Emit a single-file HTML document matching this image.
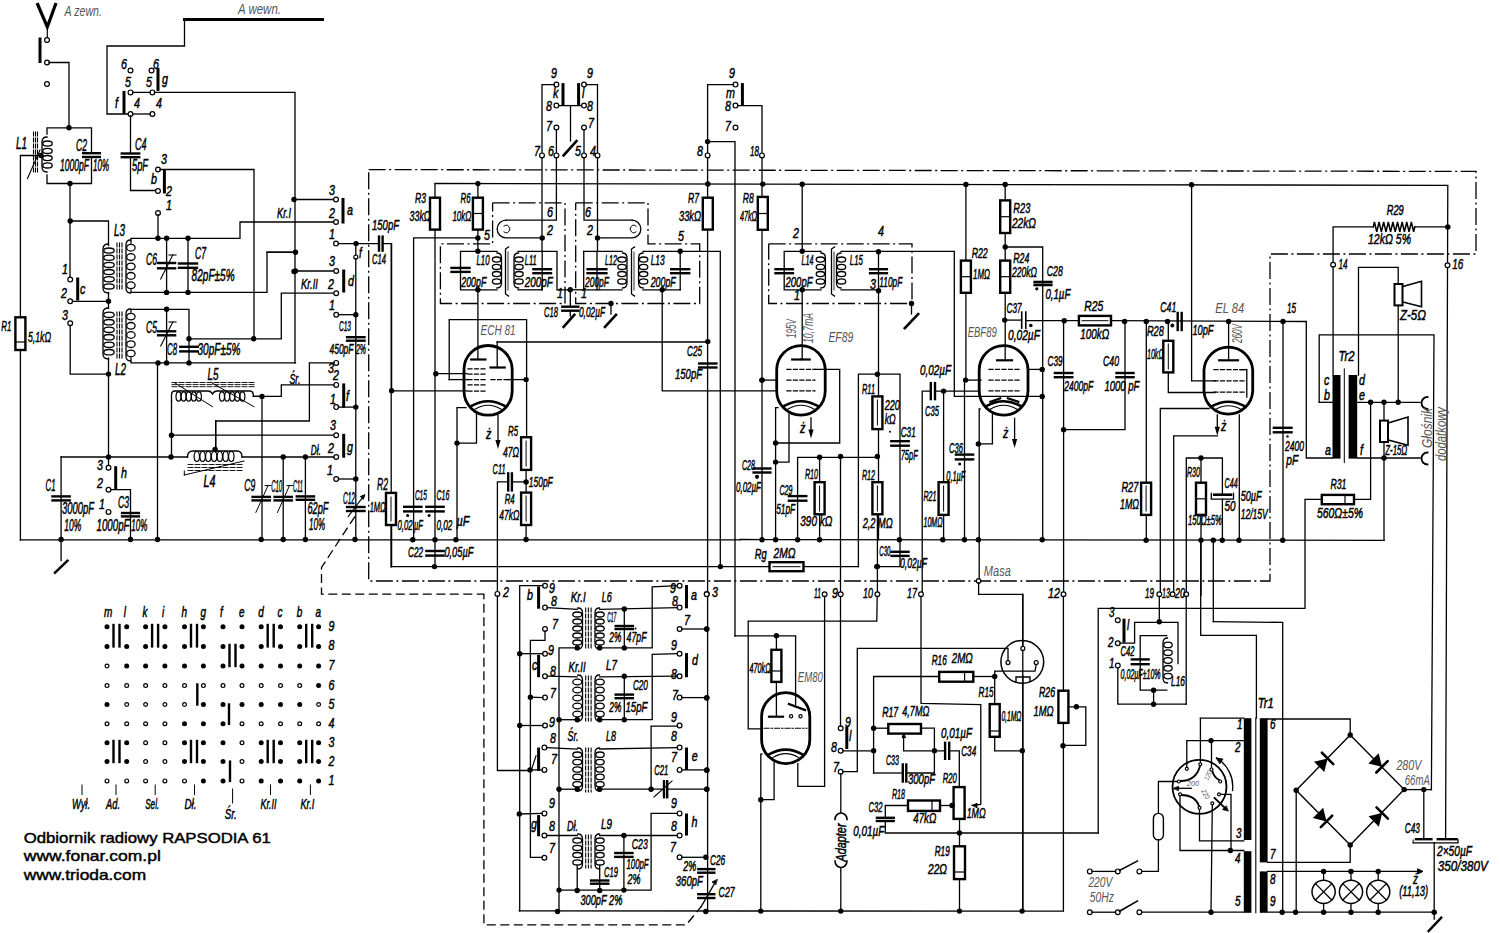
<!DOCTYPE html>
<html><head><meta charset="utf-8"><style>
html,body{margin:0;padding:0;background:#fff;width:1500px;height:933px;overflow:hidden}
svg{display:block}
.w{stroke:#000;fill:none;stroke-linecap:square}
.dd{stroke:#000;fill:none;stroke-dasharray:17 3.5 2 3.5}
.ds{stroke:#000;fill:none;stroke-dasharray:9 4.5}
.o{fill:#fff;stroke:#000;stroke-width:1.2}
.j{fill:#000}
.r{fill:#fff;stroke:#000}
.t{font-family:"Liberation Sans",sans-serif;font-style:italic;fill:#000;stroke:#000;stroke-width:0.5px}
.g{font-family:"Liberation Sans",sans-serif;font-style:italic;fill:#555;stroke:none}
.b{font-family:"Liberation Sans",sans-serif;fill:#000;stroke:#000;stroke-width:0.45px}
text{-webkit-font-smoothing:antialiased}
</style></head><body>
<svg width="1500" height="933" viewBox="0 0 1500 933">
<path d="M37.7,4.5 L47.3,27 L55.5,4.5" class="w" stroke-width="3.2"/>
<line x1="47.3" y1="26" x2="47.3" y2="38.3" class="w" stroke-width="1.2"/>
<line x1="40" y1="39" x2="40" y2="61.5" class="w" stroke-width="3"/>
<circle cx="47" cy="40" r="2.4" class="o"/>
<circle cx="47" cy="62.5" r="2.4" class="o"/>
<circle cx="47" cy="84" r="2.4" class="o"/>
<text x="64.5" y="16" font-size="13.8" class="g" textLength="37.5" lengthAdjust="spacingAndGlyphs">A  zewn.</text>
<text x="238" y="14" font-size="13.8" class="g" textLength="43" lengthAdjust="spacingAndGlyphs">A  wewn.</text>
<line x1="184.5" y1="19.5" x2="322.5" y2="19.5" class="w" stroke-width="3"/>
<polyline points="184.5,19.5 184.5,46 107,46 107,114 130.5,114" class="w" stroke-width="1.3"/>
<polyline points="49,62.5 69,62.5 69,127.8" class="w" stroke-width="1.3"/>
<circle cx="69" cy="127.8" r="2.7" class="j"/>
<polyline points="47,134 47,127.8 91.5,127.8 91.5,153.2" class="w" stroke-width="1.3"/>
<polyline points="91.5,157 91.5,183.5 47,183.5 47,175" class="w" stroke-width="1.3"/>
<line x1="83.2" y1="153.2" x2="99.8" y2="153.2" class="w" stroke-width="2.4"/>
<line x1="83.2" y1="157" x2="99.8" y2="157" class="w" stroke-width="2.4"/>
<circle cx="70" cy="183.5" r="2.7" class="j"/>
<path d="M47,137 Q42,137 42,142 L42,167 Q42,172 47,172" class="w" stroke-width="1.3"/>
<ellipse cx="47.5" cy="143.6" rx="4.7" ry="2.6" class="w" stroke-width="1.3"/>
<ellipse cx="47.5" cy="150.9" rx="4.7" ry="2.6" class="w" stroke-width="1.3"/>
<ellipse cx="47.5" cy="158.1" rx="4.7" ry="2.6" class="w" stroke-width="1.3"/>
<ellipse cx="47.5" cy="165.4" rx="4.7" ry="2.6" class="w" stroke-width="1.3"/>
<line x1="33.5" y1="132" x2="33.5" y2="173" class="w" stroke-width="1.1" stroke-dasharray="4 2"/>
<line x1="35.5" y1="132" x2="35.5" y2="173" class="w" stroke-width="1.1" stroke-dasharray="4 2"/>
<line x1="37.5" y1="132" x2="37.5" y2="173" class="w" stroke-width="1.1" stroke-dasharray="4 2"/>
<polyline points="20.4,540 20.4,155.5 41,155.5" class="w" stroke-width="1.3"/>
<circle cx="41" cy="155.5" r="2.7" class="j"/>
<line x1="27.5" y1="178.5" x2="40" y2="150" class="w" stroke-width="1.1"/>
<text x="16" y="149" font-size="16.1" class="t" textLength="11" lengthAdjust="spacingAndGlyphs">L1</text>
<text x="76" y="151" font-size="16.1" class="t" textLength="11" lengthAdjust="spacingAndGlyphs">C2</text>
<text x="60" y="171" font-size="16.1" class="t" textLength="29" lengthAdjust="spacingAndGlyphs">1000pF</text>
<text x="93" y="171" font-size="16.1" class="t" textLength="16" lengthAdjust="spacingAndGlyphs">10%</text>
<circle cx="130.5" cy="70.5" r="2.4" class="o"/>
<circle cx="151.5" cy="70.5" r="2.4" class="o"/>
<text transform="translate(121,68.5) scale(0.72,1)" font-size="14.9" class="t">6</text>
<text transform="translate(153,68.5) scale(0.72,1)" font-size="14.9" class="t">6</text>
<line x1="158" y1="69.6" x2="158" y2="89.4" class="w" stroke-width="3"/>
<text transform="translate(162,84) scale(0.72,1)" font-size="14.9" class="t">g</text>
<circle cx="130.5" cy="92.4" r="2.4" class="o"/>
<circle cx="152.4" cy="92.4" r="2.4" class="o"/>
<text transform="translate(125,87) scale(0.72,1)" font-size="14.9" class="t">5</text>
<text transform="translate(146,87) scale(0.72,1)" font-size="14.9" class="t">5</text>
<polyline points="154.5,92.4 295,92.4 295,362.9" class="w" stroke-width="1.3"/>
<line x1="132.7" y1="92.4" x2="150.2" y2="92.4" class="w" stroke-width="1.3"/>
<line x1="124" y1="92.4" x2="124" y2="112.5" class="w" stroke-width="3"/>
<text transform="translate(115,108) scale(0.72,1)" font-size="14.9" class="t">f</text>
<circle cx="130.5" cy="114" r="2.4" class="o"/>
<circle cx="152.4" cy="114" r="2.4" class="o"/>
<text transform="translate(134,108) scale(0.72,1)" font-size="14.9" class="t">4</text>
<text transform="translate(156,108) scale(0.72,1)" font-size="14.9" class="t">4</text>
<line x1="132.5" y1="114" x2="150.3" y2="114" class="w" stroke-width="1.3"/>
<polyline points="130.5,116 130.5,153.5" class="w" stroke-width="1.3"/>
<line x1="121.8" y1="153.5" x2="139.2" y2="153.5" class="w" stroke-width="2.4"/>
<line x1="121.8" y1="157.2" x2="139.2" y2="157.2" class="w" stroke-width="2.4"/>
<polyline points="130.5,157.2 130.5,190.5 156,190.5" class="w" stroke-width="1.3"/>
<circle cx="158" cy="191" r="2.4" class="o"/>
<text x="135" y="150" font-size="16.1" class="t" textLength="11.5" lengthAdjust="spacingAndGlyphs">C4</text>
<text x="132" y="171" font-size="16.1" class="t" textLength="16" lengthAdjust="spacingAndGlyphs">5pF</text>
<circle cx="158" cy="169.5" r="2.4" class="o"/>
<text transform="translate(161,164) scale(0.72,1)" font-size="14.9" class="t">3</text>
<polyline points="160,169.5 254,169.5 254,338.8" class="w" stroke-width="1.3"/>
<line x1="164.4" y1="171" x2="164.4" y2="192" class="w" stroke-width="3"/>
<text transform="translate(151,184) scale(0.72,1)" font-size="14.9" class="t">b</text>
<text transform="translate(166,196) scale(0.72,1)" font-size="14.9" class="t">2</text>
<circle cx="158" cy="213" r="2.4" class="o"/>
<text transform="translate(166,210) scale(0.72,1)" font-size="14.9" class="t">1</text>
<line x1="158" y1="215" x2="158" y2="238.3" class="w" stroke-width="1.3"/>
<circle cx="70.2" cy="221" r="2.7" class="j"/>
<polyline points="70,183.5 70,277.4" class="w" stroke-width="1.3"/>
<polyline points="70.2,221 108.5,221 108.5,245.5" class="w" stroke-width="1.3"/>
<circle cx="70.2" cy="279.6" r="2.4" class="o"/>
<text transform="translate(62,274) scale(0.72,1)" font-size="14.9" class="t">1</text>
<circle cx="70.2" cy="301.3" r="2.4" class="o"/>
<text transform="translate(61,298) scale(0.72,1)" font-size="14.9" class="t">2</text>
<polyline points="72.4,301.3 108.5,301.3" class="w" stroke-width="1.3"/>
<circle cx="108.5" cy="301.3" r="2.7" class="j"/>
<circle cx="70.2" cy="323.2" r="2.4" class="o"/>
<text transform="translate(62,320) scale(0.72,1)" font-size="14.9" class="t">3</text>
<polyline points="70.2,325.4 70.2,374.1 108.5,374.1" class="w" stroke-width="1.3"/>
<circle cx="108.5" cy="374.1" r="2.7" class="j"/>
<line x1="77.7" y1="279" x2="77.7" y2="299" class="w" stroke-width="3"/>
<text transform="translate(80,294) scale(0.72,1)" font-size="14.9" class="t">c</text>
<path d="M108.5,244 Q103,244 103,249 L103,288 Q103,293 108.5,293" class="w" stroke-width="1.3"/>
<ellipse cx="109" cy="250.6" rx="5.2" ry="2.6" class="w" stroke-width="1.3"/>
<ellipse cx="109" cy="257.8" rx="5.2" ry="2.6" class="w" stroke-width="1.3"/>
<ellipse cx="109" cy="264.9" rx="5.2" ry="2.6" class="w" stroke-width="1.3"/>
<ellipse cx="109" cy="272.1" rx="5.2" ry="2.6" class="w" stroke-width="1.3"/>
<ellipse cx="109" cy="279.2" rx="5.2" ry="2.6" class="w" stroke-width="1.3"/>
<ellipse cx="109" cy="286.4" rx="5.2" ry="2.6" class="w" stroke-width="1.3"/>
<polyline points="108.5,292.4 108.5,308.5" class="w" stroke-width="1.3"/>
<path d="M108.5,308 Q103,308 103,313 L103,354 Q103,359 108.5,359" class="w" stroke-width="1.3"/>
<ellipse cx="109" cy="314.8" rx="5.2" ry="2.7" class="w" stroke-width="1.3"/>
<ellipse cx="109" cy="322.2" rx="5.2" ry="2.7" class="w" stroke-width="1.3"/>
<ellipse cx="109" cy="329.8" rx="5.2" ry="2.7" class="w" stroke-width="1.3"/>
<ellipse cx="109" cy="337.2" rx="5.2" ry="2.7" class="w" stroke-width="1.3"/>
<ellipse cx="109" cy="344.8" rx="5.2" ry="2.7" class="w" stroke-width="1.3"/>
<ellipse cx="109" cy="352.2" rx="5.2" ry="2.7" class="w" stroke-width="1.3"/>
<polyline points="108.5,358 108.5,465.5" class="w" stroke-width="1.3"/>
<text x="114" y="236" font-size="16.1" class="t" textLength="11" lengthAdjust="spacingAndGlyphs">L3</text>
<text x="115" y="375" font-size="16.1" class="t" textLength="11" lengthAdjust="spacingAndGlyphs">L2</text>
<line x1="117" y1="243" x2="117" y2="290" class="w" stroke-width="1.1" stroke-dasharray="4 2"/>
<line x1="117" y1="312" x2="117" y2="360" class="w" stroke-width="1.1" stroke-dasharray="4 2"/>
<line x1="119.5" y1="243" x2="119.5" y2="290" class="w" stroke-width="1.1" stroke-dasharray="4 2"/>
<line x1="119.5" y1="312" x2="119.5" y2="360" class="w" stroke-width="1.1" stroke-dasharray="4 2"/>
<line x1="122" y1="243" x2="122" y2="290" class="w" stroke-width="1.1" stroke-dasharray="4 2"/>
<line x1="122" y1="312" x2="122" y2="360" class="w" stroke-width="1.1" stroke-dasharray="4 2"/>
<path d="M130.5,240 Q126,240 126,245 L126,288 Q126,293 130.5,293" class="w" stroke-width="1.3"/>
<ellipse cx="130.9" cy="247.7" rx="4.2" ry="3.4" class="w" stroke-width="1.3"/>
<ellipse cx="130.9" cy="257.1" rx="4.2" ry="3.4" class="w" stroke-width="1.3"/>
<ellipse cx="130.9" cy="266.5" rx="4.2" ry="3.4" class="w" stroke-width="1.3"/>
<ellipse cx="130.9" cy="275.9" rx="4.2" ry="3.4" class="w" stroke-width="1.3"/>
<ellipse cx="130.9" cy="285.3" rx="4.2" ry="3.4" class="w" stroke-width="1.3"/>
<path d="M130.5,309 Q126,309 126,314 L126,356 Q126,361 130.5,361" class="w" stroke-width="1.3"/>
<ellipse cx="130.9" cy="316.6" rx="4.2" ry="3.3" class="w" stroke-width="1.3"/>
<ellipse cx="130.9" cy="325.8" rx="4.2" ry="3.3" class="w" stroke-width="1.3"/>
<ellipse cx="130.9" cy="335" rx="4.2" ry="3.3" class="w" stroke-width="1.3"/>
<ellipse cx="130.9" cy="344.2" rx="4.2" ry="3.3" class="w" stroke-width="1.3"/>
<ellipse cx="130.9" cy="353.4" rx="4.2" ry="3.3" class="w" stroke-width="1.3"/>
<polyline points="131,243 131,238.3 240,238.3 240,222 334,222" class="w" stroke-width="1.3"/>
<polyline points="131,290 131,292.4 267,292.4 267,252.2 295.5,252.2" class="w" stroke-width="1.3"/>
<circle cx="158" cy="238.3" r="2.7" class="j"/>
<circle cx="166.6" cy="238.3" r="2.7" class="j"/>
<circle cx="188" cy="238.3" r="2.7" class="j"/>
<line x1="166.6" y1="238.3" x2="166.6" y2="292.4" class="w" stroke-width="1.3"/>
<line x1="158.1" y1="263" x2="175.1" y2="263" class="w" stroke-width="2.4"/>
<line x1="158.1" y1="268.3" x2="175.1" y2="268.3" class="w" stroke-width="2.4"/>
<line x1="188" y1="238.3" x2="188" y2="292.4" class="w" stroke-width="1.3"/>
<line x1="179" y1="263.5" x2="197" y2="263.5" class="w" stroke-width="2.4"/>
<line x1="179" y1="267.8" x2="197" y2="267.8" class="w" stroke-width="2.4"/>
<line x1="160.7" y1="279" x2="172.8" y2="255" class="w" stroke-width="1.1"/>
<line x1="169" y1="255" x2="176" y2="255" class="w" stroke-width="1.1"/>
<circle cx="166.6" cy="292.4" r="2.7" class="j"/>
<circle cx="188" cy="292.4" r="2.7" class="j"/>
<text x="146" y="265" font-size="16.1" class="t" textLength="11" lengthAdjust="spacingAndGlyphs">C6</text>
<text x="195" y="259" font-size="16.1" class="t" textLength="11" lengthAdjust="spacingAndGlyphs">C7</text>
<text x="191.6" y="281" font-size="16.1" class="t" textLength="43" lengthAdjust="spacingAndGlyphs">82pF±5%</text>
<polyline points="131,312 131,309.3 189,309.3 189,338.8" class="w" stroke-width="1.3"/>
<circle cx="166.6" cy="309.3" r="2.7" class="j"/>
<line x1="166.6" y1="309.3" x2="166.6" y2="362.9" class="w" stroke-width="1.3"/>
<line x1="158.1" y1="331.3" x2="175.1" y2="331.3" class="w" stroke-width="2.4"/>
<line x1="158.1" y1="335.3" x2="175.1" y2="335.3" class="w" stroke-width="2.4"/>
<line x1="160.7" y1="346" x2="172.8" y2="322" class="w" stroke-width="1.1"/>
<line x1="169" y1="322" x2="176" y2="322" class="w" stroke-width="1.1"/>
<circle cx="189" cy="338.8" r="2.7" class="j"/>
<line x1="189" y1="338.8" x2="189" y2="362.9" class="w" stroke-width="1.3"/>
<line x1="180.3" y1="346.8" x2="197.7" y2="346.8" class="w" stroke-width="2.4"/>
<line x1="180.3" y1="351.4" x2="197.7" y2="351.4" class="w" stroke-width="2.4"/>
<polyline points="189,338.8 281.3,338.8 281.3,293.2 334,293.2" class="w" stroke-width="1.3"/>
<circle cx="253.7" cy="338.8" r="2.7" class="j"/>
<polyline points="131,358 131,362.9 295.5,362.9" class="w" stroke-width="1.3"/>
<circle cx="158" cy="362.9" r="2.7" class="j"/>
<circle cx="166.6" cy="362.9" r="2.7" class="j"/>
<circle cx="189" cy="362.9" r="2.7" class="j"/>
<text x="146" y="333" font-size="16.1" class="t" textLength="11" lengthAdjust="spacingAndGlyphs">C5</text>
<text x="167" y="355" font-size="16.1" class="t" textLength="10" lengthAdjust="spacingAndGlyphs">C8</text>
<text x="197.5" y="355" font-size="16.1" class="t" textLength="43" lengthAdjust="spacingAndGlyphs">30pF±5%</text>
<polyline points="294,199.5 334,199.5" class="w" stroke-width="1.3"/>
<circle cx="294" cy="199.5" r="2.7" class="j"/>
<circle cx="295.5" cy="252.2" r="2.7" class="j"/>
<line x1="267" y1="252.2" x2="295.5" y2="252.2" class="w" stroke-width="1.3"/>
<polyline points="295.5,271 334,271" class="w" stroke-width="1.3"/>
<circle cx="295.5" cy="271" r="2.7" class="j"/>
<circle cx="294" cy="271.5" r="2.7" class="j"/>
<text x="277" y="218" font-size="14.9" class="t" textLength="14" lengthAdjust="spacingAndGlyphs">Kr.I</text>
<text x="301" y="289" font-size="14.9" class="t" textLength="17" lengthAdjust="spacingAndGlyphs">Kr.II</text>
<circle cx="336" cy="199.5" r="2.4" class="o"/>
<circle cx="336" cy="222" r="2.4" class="o"/>
<circle cx="336" cy="243.6" r="2.4" class="o"/>
<text transform="translate(329,195) scale(0.72,1)" font-size="14.9" class="t">3</text>
<text transform="translate(329,218) scale(0.72,1)" font-size="14.9" class="t">2</text>
<text transform="translate(329,239) scale(0.72,1)" font-size="14.9" class="t">1</text>
<line x1="343" y1="199.5" x2="343" y2="222" class="w" stroke-width="3"/>
<text transform="translate(347,215) scale(0.72,1)" font-size="14.9" class="t">a</text>
<circle cx="336.2" cy="271" r="2.4" class="o"/>
<circle cx="336.2" cy="293.2" r="2.4" class="o"/>
<circle cx="336.2" cy="314.7" r="2.4" class="o"/>
<text transform="translate(329,266) scale(0.72,1)" font-size="14.9" class="t">3</text>
<text transform="translate(328,289) scale(0.72,1)" font-size="14.9" class="t">2</text>
<text transform="translate(329,310) scale(0.72,1)" font-size="14.9" class="t">1</text>
<line x1="343.7" y1="271" x2="343.7" y2="291" class="w" stroke-width="3"/>
<text transform="translate(348,286) scale(0.72,1)" font-size="14.9" class="t">d</text>
<polyline points="338.4,243.6 379,243.6" class="w" stroke-width="1.3"/>
<circle cx="356" cy="243.6" r="2.7" class="j"/>
<line x1="379" y1="236.6" x2="379" y2="250.6" class="w" stroke-width="2.4"/>
<line x1="382.6" y1="236.6" x2="382.6" y2="250.6" class="w" stroke-width="2.4"/>
<polyline points="382.6,243.6 391.2,243.6 391.2,492.9" class="w" stroke-width="1.3"/>
<text x="372" y="230" font-size="14.9" class="t" textLength="27" lengthAdjust="spacingAndGlyphs">150pF</text>
<text x="372" y="264" font-size="14.9" class="t" textLength="14" lengthAdjust="spacingAndGlyphs">C14</text>
<circle cx="355.8" cy="257" r="2" class="o"/>
<text transform="translate(359,258) scale(0.72,1)" font-size="13.8" class="t">f</text>
<line x1="355.8" y1="243.6" x2="355.8" y2="255" class="w" stroke-width="1.3"/>
<line x1="355.8" y1="259" x2="355.8" y2="540" class="w" stroke-width="1.3"/>
<polyline points="338.4,314.7 355.8,314.7" class="w" stroke-width="1.3"/>
<circle cx="355.8" cy="314.7" r="2.7" class="j"/>
<line x1="347.1" y1="337.2" x2="364.5" y2="337.2" class="w" stroke-width="2.4"/>
<line x1="347.1" y1="340.7" x2="364.5" y2="340.7" class="w" stroke-width="2.4"/>
<text x="339" y="331" font-size="14.9" class="t" textLength="12" lengthAdjust="spacingAndGlyphs">C13</text>
<text x="329.5" y="354" font-size="14.9" class="t" textLength="24" lengthAdjust="spacingAndGlyphs">450pF</text>
<text x="356" y="354" font-size="14.9" class="t" textLength="10" lengthAdjust="spacingAndGlyphs">2%</text>
<circle cx="336.2" cy="362.9" r="2.4" class="o"/>
<circle cx="336.2" cy="384.9" r="2.4" class="o"/>
<circle cx="336.2" cy="407.1" r="2.4" class="o"/>
<text transform="translate(328,373) scale(0.72,1)" font-size="14.9" class="t">3</text>
<text transform="translate(333,380) scale(0.72,1)" font-size="14.9" class="t">2</text>
<text transform="translate(330,404) scale(0.72,1)" font-size="14.9" class="t">1</text>
<line x1="343.7" y1="384.9" x2="343.7" y2="406.3" class="w" stroke-width="3"/>
<text transform="translate(346,401) scale(0.72,1)" font-size="14.9" class="t">f</text>
<polyline points="334,362.9 309.4,362.9 309.4,421 215.7,421 215.7,449.5" class="w" stroke-width="1.3"/>
<polyline points="334,384.9 281.3,384.9 281.3,396.4 253.2,396.4" class="w" stroke-width="1.3"/>
<circle cx="262" cy="396.4" r="2.7" class="j"/>
<polyline points="338.4,407.1 355.8,407.1" class="w" stroke-width="1.3"/>
<circle cx="355.8" cy="407.1" r="2.7" class="j"/>
<text x="289.4" y="384" font-size="14.9" class="t" textLength="11" lengthAdjust="spacingAndGlyphs">Śr.</text>
<path d="M171.5,401 L171.5,395 Q171.5,391 175,391 L208,391 Q211,391 212.5,394 Q214,391 217,391 L250,391 Q253.5,391 253.5,396.4 L262,396.4" class="w" stroke-width="1.3"/>
<ellipse cx="178.5" cy="396.5" rx="2.5" ry="4.7" class="w" stroke-width="1.2"/>
<ellipse cx="222" cy="396.5" rx="2.5" ry="4.7" class="w" stroke-width="1.2"/>
<ellipse cx="183.6" cy="396.5" rx="2.5" ry="4.7" class="w" stroke-width="1.2"/>
<ellipse cx="227.1" cy="396.5" rx="2.5" ry="4.7" class="w" stroke-width="1.2"/>
<ellipse cx="188.7" cy="396.5" rx="2.5" ry="4.7" class="w" stroke-width="1.2"/>
<ellipse cx="232.2" cy="396.5" rx="2.5" ry="4.7" class="w" stroke-width="1.2"/>
<ellipse cx="193.8" cy="396.5" rx="2.5" ry="4.7" class="w" stroke-width="1.2"/>
<ellipse cx="237.3" cy="396.5" rx="2.5" ry="4.7" class="w" stroke-width="1.2"/>
<ellipse cx="198.9" cy="396.5" rx="2.5" ry="4.7" class="w" stroke-width="1.2"/>
<ellipse cx="242.4" cy="396.5" rx="2.5" ry="4.7" class="w" stroke-width="1.2"/>
<polyline points="171.5,401 171.5,457" class="w" stroke-width="1.3"/>
<circle cx="171.5" cy="435.2" r="2.7" class="j"/>
<line x1="172" y1="382.5" x2="254" y2="382.5" class="w" stroke-width="0.9" stroke-dasharray="5 2"/>
<line x1="172" y1="384.6" x2="254" y2="384.6" class="w" stroke-width="0.9" stroke-dasharray="5 2"/>
<line x1="172" y1="386.7" x2="254" y2="386.7" class="w" stroke-width="0.9" stroke-dasharray="5 2"/>
<line x1="175" y1="383" x2="212.5" y2="406.7" class="w" stroke-width="1.0"/>
<line x1="212.5" y1="383.3" x2="254" y2="406.7" class="w" stroke-width="1.0"/>
<text x="207.6" y="380" font-size="16.1" class="t" textLength="11" lengthAdjust="spacingAndGlyphs">L5</text>
<polyline points="262,396.4 262,540" class="w" stroke-width="1.3"/>
<polyline points="171.5,435.2 334,435.2" class="w" stroke-width="1.3"/>
<circle cx="171" cy="457" r="2.7" class="j"/>
<circle cx="336.2" cy="435.3" r="2.4" class="o"/>
<circle cx="336.2" cy="457" r="2.4" class="o"/>
<circle cx="336.2" cy="479" r="2.4" class="o"/>
<text transform="translate(330,430) scale(0.72,1)" font-size="14.9" class="t">3</text>
<text transform="translate(328,453) scale(0.72,1)" font-size="14.9" class="t">2</text>
<text transform="translate(327,475) scale(0.72,1)" font-size="14.9" class="t">1</text>
<line x1="343.7" y1="435.3" x2="343.7" y2="456.2" class="w" stroke-width="3"/>
<text transform="translate(347,452) scale(0.72,1)" font-size="14.9" class="t">g</text>
<text x="310.8" y="455" font-size="14.9" class="t" textLength="10" lengthAdjust="spacingAndGlyphs">Dł.</text>
<polyline points="61.1,457 187.5,457" class="w" stroke-width="1.3"/>
<circle cx="108.5" cy="457" r="2.7" class="j"/>
<polyline points="242,457 334,457" class="w" stroke-width="1.3"/>
<circle cx="283.2" cy="457" r="2.7" class="j"/>
<circle cx="305.4" cy="457" r="2.7" class="j"/>
<path d="M187.5,457 Q187.5,451 193,451 L237,451 Q242,451 242,457" class="w" stroke-width="1.3"/>
<ellipse cx="196.8" cy="456.5" rx="2.7" ry="5" class="w" stroke-width="1.2"/>
<ellipse cx="202.6" cy="456.5" rx="2.7" ry="5" class="w" stroke-width="1.2"/>
<ellipse cx="208.3" cy="456.5" rx="2.7" ry="5" class="w" stroke-width="1.2"/>
<ellipse cx="214.1" cy="456.5" rx="2.7" ry="5" class="w" stroke-width="1.2"/>
<ellipse cx="219.8" cy="456.5" rx="2.7" ry="5" class="w" stroke-width="1.2"/>
<ellipse cx="225.6" cy="456.5" rx="2.7" ry="5" class="w" stroke-width="1.2"/>
<ellipse cx="231.3" cy="456.5" rx="2.7" ry="5" class="w" stroke-width="1.2"/>
<circle cx="215.1" cy="449.5" r="2.7" class="j"/>
<line x1="215.7" y1="421" x2="215.7" y2="449.5" class="w" stroke-width="1.3"/>
<line x1="188" y1="464.5" x2="244" y2="464.5" class="w" stroke-width="0.9" stroke-dasharray="5 2"/>
<line x1="188" y1="467.5" x2="244" y2="467.5" class="w" stroke-width="0.9" stroke-dasharray="5 2"/>
<line x1="188" y1="470.5" x2="244" y2="470.5" class="w" stroke-width="0.9" stroke-dasharray="5 2"/>
<line x1="184.3" y1="475" x2="244" y2="461" class="w" stroke-width="1.0"/>
<line x1="184.3" y1="475" x2="184.3" y2="471" class="w" stroke-width="1.0"/>
<text x="203.6" y="487" font-size="16.1" class="t" textLength="12" lengthAdjust="spacingAndGlyphs">L4</text>
<polyline points="61.1,457 61.1,540" class="w" stroke-width="1.3"/>
<line x1="52.5" y1="496.4" x2="69.7" y2="496.4" class="w" stroke-width="2.4"/>
<line x1="52.5" y1="500.4" x2="69.7" y2="500.4" class="w" stroke-width="2.4"/>
<text x="45.5" y="491" font-size="16.1" class="t" textLength="10" lengthAdjust="spacingAndGlyphs">C1</text>
<text x="62" y="514" font-size="16.1" class="t" textLength="32" lengthAdjust="spacingAndGlyphs">3000pF</text>
<text x="64.3" y="531" font-size="16.1" class="t" textLength="17" lengthAdjust="spacingAndGlyphs">10%</text>
<circle cx="108.5" cy="467.7" r="2.4" class="o"/>
<circle cx="108.5" cy="489.7" r="2.4" class="o"/>
<circle cx="108.5" cy="511.9" r="2.4" class="o"/>
<text transform="translate(97,470) scale(0.72,1)" font-size="14.9" class="t">3</text>
<text transform="translate(97,488) scale(0.72,1)" font-size="14.9" class="t">2</text>
<text transform="translate(99,509) scale(0.72,1)" font-size="14.9" class="t">1</text>
<line x1="115.7" y1="467.7" x2="115.7" y2="488.3" class="w" stroke-width="3"/>
<text transform="translate(121,478) scale(0.72,1)" font-size="14.9" class="t">h</text>
<polyline points="110.7,489.7 130.5,489.7 130.5,540" class="w" stroke-width="1.3"/>
<line x1="122.1" y1="513" x2="138.9" y2="513" class="w" stroke-width="2.4"/>
<line x1="122.1" y1="516.4" x2="138.9" y2="516.4" class="w" stroke-width="2.4"/>
<text x="118" y="508" font-size="16.1" class="t" textLength="11" lengthAdjust="spacingAndGlyphs">C3</text>
<text x="96.5" y="531" font-size="16.1" class="t" textLength="33" lengthAdjust="spacingAndGlyphs">1000pF</text>
<text x="131.3" y="531" font-size="16.1" class="t" textLength="16" lengthAdjust="spacingAndGlyphs">10%</text>
<line x1="157.5" y1="362.9" x2="157.5" y2="540" class="w" stroke-width="1.3"/>
<line x1="252.6" y1="496.9" x2="269.8" y2="496.9" class="w" stroke-width="2.4"/>
<line x1="252.6" y1="500.4" x2="269.8" y2="500.4" class="w" stroke-width="2.4"/>
<line x1="274.6" y1="496.9" x2="291.8" y2="496.9" class="w" stroke-width="2.4"/>
<line x1="274.6" y1="500.4" x2="291.8" y2="500.4" class="w" stroke-width="2.4"/>
<line x1="296.8" y1="496.4" x2="314" y2="496.4" class="w" stroke-width="2.4"/>
<line x1="296.8" y1="499.8" x2="314" y2="499.8" class="w" stroke-width="2.4"/>
<line x1="283.2" y1="457" x2="283.2" y2="540" class="w" stroke-width="1.3"/>
<line x1="305.4" y1="457" x2="305.4" y2="540" class="w" stroke-width="1.3"/>
<line x1="255.9" y1="512.4" x2="268" y2="485.6" class="w" stroke-width="1.0"/>
<line x1="277.5" y1="512.4" x2="289.5" y2="485.6" class="w" stroke-width="1.0"/>
<line x1="265" y1="485.6" x2="271" y2="485.6" class="w" stroke-width="1.0"/>
<line x1="287" y1="485.6" x2="293" y2="485.6" class="w" stroke-width="1.0"/>
<text x="244.3" y="491" font-size="16.1" class="t" textLength="11" lengthAdjust="spacingAndGlyphs">C9</text>
<text x="271.2" y="492" font-size="16.1" class="t" textLength="11" lengthAdjust="spacingAndGlyphs">C10</text>
<text x="293" y="492" font-size="16.1" class="t" textLength="10" lengthAdjust="spacingAndGlyphs">C11</text>
<text x="307.5" y="514" font-size="16.1" class="t" textLength="21" lengthAdjust="spacingAndGlyphs">62pF</text>
<text x="309" y="530" font-size="16.1" class="t" textLength="16" lengthAdjust="spacingAndGlyphs">10%</text>
<polyline points="338.4,479 355.8,479" class="w" stroke-width="1.3"/>
<circle cx="355.8" cy="479" r="2.7" class="j"/>
<line x1="347.1" y1="507" x2="364.5" y2="507" class="w" stroke-width="2.4"/>
<line x1="347.1" y1="511" x2="364.5" y2="511" class="w" stroke-width="2.4"/>
<line x1="348.3" y1="516.4" x2="364.4" y2="495" class="w" stroke-width="1.1"/>
<path d="M364.4,495 l-4,1.5 l2.5,2.5 z" class="w" stroke-width="1" style="fill:#000"/>
<text x="343" y="504" font-size="16.1" class="t" textLength="12" lengthAdjust="spacingAndGlyphs">C12</text>
<polyline points="355,516.4 321.5,567.4 321.5,594.1 480,594.1" class="ds" stroke-width="1.3"/>
<polyline points="20.4,539.8 740,539.8" class="w" stroke-width="1.3"/>
<circle cx="61.1" cy="539.5" r="2.7" class="j"/>
<circle cx="130.5" cy="539.5" r="2.7" class="j"/>
<circle cx="157.5" cy="539.5" r="2.7" class="j"/>
<circle cx="261.2" cy="539.5" r="2.7" class="j"/>
<circle cx="283.2" cy="539.5" r="2.7" class="j"/>
<circle cx="305.4" cy="539.5" r="2.7" class="j"/>
<circle cx="355" cy="539.5" r="2.7" class="j"/>
<polyline points="61.1,540 61.1,560.7" class="w" stroke-width="1.3"/>
<line x1="55" y1="572.7" x2="67.5" y2="560.7" class="w" stroke-width="2.4"/>
<rect x="15.4" y="317.3" width="10" height="32.7" class="r" stroke-width="2.4"/>
<line x1="15.4" y1="342" x2="25.4" y2="342" class="w" stroke-width="1.2"/>
<text x="1.3" y="331" font-size="14.9" class="t" textLength="10" lengthAdjust="spacingAndGlyphs">R1</text>
<text x="28" y="342" font-size="14.9" class="t" textLength="23" lengthAdjust="spacingAndGlyphs">5,1kΩ</text>
<rect x="386" y="492.9" width="10" height="32.1" class="r" stroke-width="2.4"/>
<line x1="391" y1="497" x2="391" y2="521" class="w" stroke-width="1.0"/>
<line x1="391" y1="525" x2="391" y2="566.8" class="w" stroke-width="1.3"/>
<text x="377" y="490" font-size="16.1" class="t" textLength="11" lengthAdjust="spacingAndGlyphs">R2</text>
<text x="369.7" y="512" font-size="13.8" class="t" textLength="16" lengthAdjust="spacingAndGlyphs">1MΩ</text>
<circle cx="107" cy="626.8" r="2.5" class="j"/>
<circle cx="126.7" cy="626.8" r="2.5" class="j"/>
<circle cx="145.6" cy="626.8" r="2.5" class="j"/>
<circle cx="164.9" cy="626.8" r="2.5" class="j"/>
<circle cx="184.5" cy="626.8" r="2.5" class="j"/>
<circle cx="203.4" cy="626.8" r="2.5" class="j"/>
<circle cx="223" cy="626.8" r="2.5" class="j"/>
<circle cx="242" cy="626.8" r="2.5" class="j"/>
<circle cx="261.2" cy="626.8" r="2.5" class="j"/>
<circle cx="280.5" cy="626.8" r="2.5" class="j"/>
<circle cx="299.7" cy="626.8" r="2.5" class="j"/>
<circle cx="318.6" cy="626.8" r="2.5" class="j"/>
<circle cx="107" cy="646.4" r="2.5" class="j"/>
<circle cx="126.7" cy="646.4" r="2.5" class="j"/>
<circle cx="145.6" cy="646.4" r="2.5" class="j"/>
<circle cx="164.9" cy="646.4" r="2.5" class="j"/>
<circle cx="184.5" cy="646.4" r="2.5" class="j"/>
<circle cx="203.4" cy="646.4" r="2.5" class="j"/>
<circle cx="223" cy="646.4" r="2.5" class="j"/>
<circle cx="242" cy="646.4" r="2.5" class="j"/>
<circle cx="261.2" cy="646.4" r="2.5" class="j"/>
<circle cx="280.5" cy="646.4" r="2.5" class="j"/>
<circle cx="299.7" cy="646.4" r="2.5" class="j"/>
<circle cx="318.6" cy="646.4" r="2.5" class="j"/>
<circle cx="107" cy="666" r="1.9" class="o"/>
<circle cx="126.7" cy="666" r="2.5" class="j"/>
<circle cx="145.6" cy="666" r="2.5" class="j"/>
<circle cx="164.9" cy="666" r="2.5" class="j"/>
<circle cx="184.5" cy="666" r="2.5" class="j"/>
<circle cx="203.4" cy="666" r="2.5" class="j"/>
<circle cx="223" cy="666" r="2.5" class="j"/>
<circle cx="242" cy="666" r="2.5" class="j"/>
<circle cx="261.2" cy="666" r="2.5" class="j"/>
<circle cx="280.5" cy="666" r="2.5" class="j"/>
<circle cx="299.7" cy="666" r="2.5" class="j"/>
<circle cx="318.6" cy="666" r="2.5" class="j"/>
<circle cx="107" cy="685.6" r="1.9" class="o"/>
<circle cx="126.7" cy="685.6" r="1.9" class="o"/>
<circle cx="145.6" cy="685.6" r="1.9" class="o"/>
<circle cx="164.9" cy="685.6" r="1.9" class="o"/>
<circle cx="184.5" cy="685.6" r="1.9" class="o"/>
<circle cx="203.4" cy="685.6" r="1.9" class="o"/>
<circle cx="223" cy="685.6" r="1.9" class="o"/>
<circle cx="242" cy="685.6" r="1.9" class="o"/>
<circle cx="261.2" cy="685.6" r="1.9" class="o"/>
<circle cx="280.5" cy="685.6" r="1.9" class="o"/>
<circle cx="299.7" cy="685.6" r="1.9" class="o"/>
<circle cx="318.6" cy="685.6" r="2.5" class="j"/>
<circle cx="107" cy="704.5" r="2.5" class="j"/>
<circle cx="126.7" cy="704.5" r="1.9" class="o"/>
<circle cx="145.6" cy="704.5" r="1.9" class="o"/>
<circle cx="164.9" cy="704.5" r="1.9" class="o"/>
<circle cx="184.5" cy="704.5" r="1.9" class="o"/>
<circle cx="203.4" cy="704.5" r="2.5" class="j"/>
<circle cx="223" cy="704.5" r="2.5" class="j"/>
<circle cx="242" cy="704.5" r="2.5" class="j"/>
<circle cx="261.2" cy="704.5" r="2.5" class="j"/>
<circle cx="280.5" cy="704.5" r="2.5" class="j"/>
<circle cx="299.7" cy="704.5" r="2.5" class="j"/>
<circle cx="318.6" cy="704.5" r="1.9" class="o"/>
<circle cx="107" cy="723.8" r="1.9" class="o"/>
<circle cx="126.7" cy="723.8" r="1.9" class="o"/>
<circle cx="145.6" cy="723.8" r="1.9" class="o"/>
<circle cx="164.9" cy="723.8" r="1.9" class="o"/>
<circle cx="184.5" cy="723.8" r="2.5" class="j"/>
<circle cx="203.4" cy="723.8" r="2.5" class="j"/>
<circle cx="223" cy="723.8" r="2.5" class="j"/>
<circle cx="242" cy="723.8" r="1.9" class="o"/>
<circle cx="261.2" cy="723.8" r="1.9" class="o"/>
<circle cx="280.5" cy="723.8" r="1.9" class="o"/>
<circle cx="299.7" cy="723.8" r="1.9" class="o"/>
<circle cx="318.6" cy="723.8" r="1.9" class="o"/>
<circle cx="107" cy="742.7" r="2.5" class="j"/>
<circle cx="126.7" cy="742.7" r="2.5" class="j"/>
<circle cx="145.6" cy="742.7" r="1.9" class="o"/>
<circle cx="164.9" cy="742.7" r="1.9" class="o"/>
<circle cx="184.5" cy="742.7" r="2.5" class="j"/>
<circle cx="203.4" cy="742.7" r="2.5" class="j"/>
<circle cx="223" cy="742.7" r="2.5" class="j"/>
<circle cx="242" cy="742.7" r="1.9" class="o"/>
<circle cx="261.2" cy="742.7" r="2.5" class="j"/>
<circle cx="280.5" cy="742.7" r="2.5" class="j"/>
<circle cx="299.7" cy="742.7" r="2.5" class="j"/>
<circle cx="318.6" cy="742.7" r="2.5" class="j"/>
<circle cx="107" cy="761.6" r="2.5" class="j"/>
<circle cx="126.7" cy="761.6" r="2.5" class="j"/>
<circle cx="145.6" cy="761.6" r="1.9" class="o"/>
<circle cx="164.9" cy="761.6" r="1.9" class="o"/>
<circle cx="184.5" cy="761.6" r="2.5" class="j"/>
<circle cx="203.4" cy="761.6" r="2.5" class="j"/>
<circle cx="223" cy="761.6" r="2.5" class="j"/>
<circle cx="242" cy="761.6" r="1.9" class="o"/>
<circle cx="261.2" cy="761.6" r="2.5" class="j"/>
<circle cx="280.5" cy="761.6" r="2.5" class="j"/>
<circle cx="299.7" cy="761.6" r="2.5" class="j"/>
<circle cx="318.6" cy="761.6" r="2.5" class="j"/>
<circle cx="107" cy="780.9" r="1.9" class="o"/>
<circle cx="126.7" cy="780.9" r="1.9" class="o"/>
<circle cx="145.6" cy="780.9" r="1.9" class="o"/>
<circle cx="164.9" cy="780.9" r="1.9" class="o"/>
<circle cx="184.5" cy="780.9" r="1.9" class="o"/>
<circle cx="203.4" cy="780.9" r="2.5" class="j"/>
<circle cx="223" cy="780.9" r="2.5" class="j"/>
<circle cx="242" cy="780.9" r="1.9" class="o"/>
<circle cx="261.2" cy="780.9" r="2.5" class="j"/>
<circle cx="280.5" cy="780.9" r="2.5" class="j"/>
<circle cx="299.7" cy="780.9" r="2.5" class="j"/>
<circle cx="318.6" cy="780.9" r="2.5" class="j"/>
<text transform="translate(104,617) scale(0.72,1)" font-size="13.8" class="t">m</text>
<text transform="translate(123.7,617) scale(0.72,1)" font-size="13.8" class="t">l</text>
<text transform="translate(142.6,617) scale(0.72,1)" font-size="13.8" class="t">k</text>
<text transform="translate(161.9,617) scale(0.72,1)" font-size="13.8" class="t">i</text>
<text transform="translate(181.5,617) scale(0.72,1)" font-size="13.8" class="t">h</text>
<text transform="translate(200.4,617) scale(0.72,1)" font-size="13.8" class="t">g</text>
<text transform="translate(220,617) scale(0.72,1)" font-size="13.8" class="t">f</text>
<text transform="translate(239,617) scale(0.72,1)" font-size="13.8" class="t">e</text>
<text transform="translate(258.2,617) scale(0.72,1)" font-size="13.8" class="t">d</text>
<text transform="translate(277.5,617) scale(0.72,1)" font-size="13.8" class="t">c</text>
<text transform="translate(296.7,617) scale(0.72,1)" font-size="13.8" class="t">b</text>
<text transform="translate(315.6,617) scale(0.72,1)" font-size="13.8" class="t">a</text>
<text transform="translate(328.5,630.8) scale(0.72,1)" font-size="14.9" class="t">9</text>
<text transform="translate(328.5,650.4) scale(0.72,1)" font-size="14.9" class="t">8</text>
<text transform="translate(328.5,670) scale(0.72,1)" font-size="14.9" class="t">7</text>
<text transform="translate(328.5,689.6) scale(0.72,1)" font-size="14.9" class="t">6</text>
<text transform="translate(328.5,708.5) scale(0.72,1)" font-size="14.9" class="t">5</text>
<text transform="translate(328.5,727.8) scale(0.72,1)" font-size="14.9" class="t">4</text>
<text transform="translate(328.5,746.7) scale(0.72,1)" font-size="14.9" class="t">3</text>
<text transform="translate(328.5,765.6) scale(0.72,1)" font-size="14.9" class="t">2</text>
<text transform="translate(328.5,784.9) scale(0.72,1)" font-size="14.9" class="t">1</text>
<line x1="113.5" y1="625" x2="113.5" y2="646.4" class="w" stroke-width="2.4"/>
<line x1="119.5" y1="625" x2="119.5" y2="646.4" class="w" stroke-width="2.4"/>
<line x1="152.1" y1="625" x2="152.1" y2="646.4" class="w" stroke-width="2.4"/>
<line x1="158.1" y1="625" x2="158.1" y2="646.4" class="w" stroke-width="2.4"/>
<line x1="191" y1="625" x2="191" y2="646.4" class="w" stroke-width="2.4"/>
<line x1="197" y1="625" x2="197" y2="646.4" class="w" stroke-width="2.4"/>
<line x1="267.7" y1="625" x2="267.7" y2="646.4" class="w" stroke-width="2.4"/>
<line x1="273.7" y1="625" x2="273.7" y2="646.4" class="w" stroke-width="2.4"/>
<line x1="306.2" y1="625" x2="306.2" y2="646.4" class="w" stroke-width="2.4"/>
<line x1="312.2" y1="625" x2="312.2" y2="646.4" class="w" stroke-width="2.4"/>
<line x1="229.5" y1="645" x2="229.5" y2="666" class="w" stroke-width="2.4"/>
<line x1="235.5" y1="645" x2="235.5" y2="666" class="w" stroke-width="2.4"/>
<line x1="113.5" y1="741" x2="113.5" y2="762" class="w" stroke-width="2.4"/>
<line x1="119.5" y1="741" x2="119.5" y2="762" class="w" stroke-width="2.4"/>
<line x1="191" y1="741" x2="191" y2="762" class="w" stroke-width="2.4"/>
<line x1="197" y1="741" x2="197" y2="762" class="w" stroke-width="2.4"/>
<line x1="267.7" y1="741" x2="267.7" y2="762" class="w" stroke-width="2.4"/>
<line x1="273.7" y1="741" x2="273.7" y2="762" class="w" stroke-width="2.4"/>
<line x1="306.2" y1="741" x2="306.2" y2="762" class="w" stroke-width="2.4"/>
<line x1="312.2" y1="741" x2="312.2" y2="762" class="w" stroke-width="2.4"/>
<line x1="197.3" y1="684.5" x2="197.3" y2="704.5" class="w" stroke-width="2.4"/>
<line x1="229" y1="704.5" x2="229" y2="723.8" class="w" stroke-width="2.4"/>
<line x1="230" y1="761.6" x2="230" y2="780.9" class="w" stroke-width="2.4"/>
<line x1="82" y1="785" x2="82" y2="794.5" class="w" stroke-width="1.0"/>
<text x="72" y="809" font-size="14.9" class="t" textLength="18" lengthAdjust="spacingAndGlyphs">Wył.</text>
<line x1="116" y1="785" x2="116" y2="794.5" class="w" stroke-width="1.0"/>
<text x="106" y="809" font-size="14.9" class="t" textLength="14" lengthAdjust="spacingAndGlyphs">Ad.</text>
<line x1="155.2" y1="785" x2="155.2" y2="794.5" class="w" stroke-width="1.0"/>
<text x="145.2" y="809" font-size="14.9" class="t" textLength="14" lengthAdjust="spacingAndGlyphs">Sel.</text>
<line x1="194.5" y1="785" x2="194.5" y2="794.5" class="w" stroke-width="1.0"/>
<text x="184.5" y="809" font-size="14.9" class="t" textLength="12" lengthAdjust="spacingAndGlyphs">Dł.</text>
<line x1="270.5" y1="785" x2="270.5" y2="794.5" class="w" stroke-width="1.0"/>
<text x="260.5" y="809" font-size="14.9" class="t" textLength="16" lengthAdjust="spacingAndGlyphs">Kr.II</text>
<line x1="310.4" y1="785" x2="310.4" y2="794.5" class="w" stroke-width="1.0"/>
<text x="300.4" y="809" font-size="14.9" class="t" textLength="14" lengthAdjust="spacingAndGlyphs">Kr.I</text>
<line x1="232.6" y1="789" x2="232.6" y2="803" class="w" stroke-width="1.0"/>
<text x="224.8" y="819" font-size="14.9" class="t" textLength="12" lengthAdjust="spacingAndGlyphs">Śr.</text>
<text x="23.8" y="842.9" font-size="15" class="b" textLength="247" lengthAdjust="spacingAndGlyphs">Odbiornik radiowy RAPSODIA 61</text>
<text x="23.8" y="861.2" font-size="15" class="b" textLength="137" lengthAdjust="spacingAndGlyphs">www.fonar.com.pl</text>
<text x="23.8" y="880.1" font-size="15" class="b" textLength="122.3" lengthAdjust="spacingAndGlyphs">www.trioda.com</text>
<polyline points="368.7,169.6 1476,171.4 1476,254 1270,254 1270,581 368.7,581 368.7,169.6" class="dd" stroke-width="1.3"/>
<polyline points="435,183.5 1447.8,185.3 1445.6,839" class="w" stroke-width="1.3"/>
<circle cx="556.4" cy="84.6" r="2.4" class="o"/>
<circle cx="584" cy="84.6" r="2.4" class="o"/>
<text transform="translate(551,78) scale(0.72,1)" font-size="14.9" class="t">9</text>
<text transform="translate(587,78) scale(0.72,1)" font-size="14.9" class="t">9</text>
<polyline points="554.2,84.6 542,84.6 542,153.2" class="w" stroke-width="1.3"/>
<circle cx="542" cy="155.4" r="2.4" class="o"/>
<line x1="542" y1="157.6" x2="542" y2="251.3" class="w" stroke-width="1.3"/>
<circle cx="542.2" cy="237.9" r="2.7" class="j"/>
<circle cx="556.4" cy="127.5" r="2.4" class="o"/>
<text transform="translate(546,131) scale(0.72,1)" font-size="14.9" class="t">7</text>
<line x1="556.4" y1="129.7" x2="556.4" y2="153.2" class="w" stroke-width="1.3"/>
<circle cx="556.4" cy="155.4" r="2.4" class="o"/>
<line x1="563" y1="84.6" x2="563" y2="103.5" class="w" stroke-width="3"/>
<text transform="translate(553,98) scale(0.72,1)" font-size="14.9" class="t">k</text>
<circle cx="556.4" cy="105.6" r="2.4" class="o"/>
<text transform="translate(546,111) scale(0.72,1)" font-size="14.9" class="t">8</text>
<line x1="558.6" y1="105.6" x2="581.8" y2="105.6" class="w" stroke-width="1.3"/>
<circle cx="584" cy="105.6" r="2.4" class="o"/>
<text transform="translate(587,111) scale(0.72,1)" font-size="14.9" class="t">8</text>
<line x1="570.5" y1="105.6" x2="570.5" y2="141" class="w" stroke-width="1.3"/>
<line x1="563.6" y1="155.4" x2="576.5" y2="141" class="w" stroke-width="2.6"/>
<line x1="578.6" y1="84.6" x2="578.6" y2="103.5" class="w" stroke-width="3"/>
<text transform="translate(582,98) scale(0.72,1)" font-size="14.9" class="t">l</text>
<circle cx="584" cy="127.5" r="2.4" class="o"/>
<text transform="translate(588,128) scale(0.72,1)" font-size="14.9" class="t">7</text>
<line x1="584" y1="129.7" x2="584" y2="153.2" class="w" stroke-width="1.3"/>
<circle cx="584" cy="155.4" r="2.4" class="o"/>
<text transform="translate(575,156) scale(0.72,1)" font-size="14.9" class="t">5</text>
<polyline points="586.2,84.6 597.5,84.6 597.5,153.2" class="w" stroke-width="1.3"/>
<circle cx="597.5" cy="155.4" r="2.4" class="o"/>
<text transform="translate(590,156) scale(0.72,1)" font-size="14.9" class="t">4</text>
<text transform="translate(534,156) scale(0.72,1)" font-size="14.9" class="t">7</text>
<text transform="translate(548,156) scale(0.72,1)" font-size="14.9" class="t">6</text>
<polyline points="556.4,157.6 556.4,220.2 506,220.2" class="w" stroke-width="1.3"/>
<path d="M506,220.2 A8.8,8.8 0 0 0 506,237.9 L542,237.9" class="w" stroke-width="1.3"/>
<path d="M504,226 q4,-3 6,3 q-2,6 -6,3" class="w" stroke-width="1.0"/>
<polyline points="584,157.6 584,220.2 632,220.2" class="w" stroke-width="1.3"/>
<path d="M632,220.2 A8.8,8.8 0 0 1 632,237.9 L597.5,237.9" class="w" stroke-width="1.3"/>
<path d="M636,226 q-4,-3 -6,3 q2,6 6,3" class="w" stroke-width="1.0"/>
<line x1="597.5" y1="157.6" x2="597.5" y2="251.3" class="w" stroke-width="1.3"/>
<circle cx="597.5" cy="237.9" r="2.7" class="j"/>
<text transform="translate(547,217) scale(0.72,1)" font-size="14.9" class="t">6</text>
<text transform="translate(585,217) scale(0.72,1)" font-size="14.9" class="t">6</text>
<text transform="translate(547,235) scale(0.72,1)" font-size="14.9" class="t">2</text>
<text transform="translate(587,235) scale(0.72,1)" font-size="14.9" class="t">2</text>
<circle cx="735.5" cy="84.6" r="2.4" class="o"/>
<text transform="translate(729,78) scale(0.72,1)" font-size="14.9" class="t">9</text>
<polyline points="733.3,84.6 707.6,84.6 707.6,153.2" class="w" stroke-width="1.3"/>
<circle cx="707.6" cy="141.6" r="2.7" class="j"/>
<polyline points="707.6,141.6 735,141.6 735,635.8" class="w" stroke-width="1.3"/>
<line x1="742.4" y1="84.6" x2="742.4" y2="103.5" class="w" stroke-width="3"/>
<text transform="translate(726,98) scale(0.72,1)" font-size="14.9" class="t">m</text>
<circle cx="735.5" cy="105.6" r="2.4" class="o"/>
<text transform="translate(725,111) scale(0.72,1)" font-size="14.9" class="t">8</text>
<polyline points="737.7,105.6 762,105.6 762,153.2" class="w" stroke-width="1.3"/>
<circle cx="762" cy="155.4" r="2.4" class="o"/>
<text x="750" y="156" font-size="14.9" class="t" textLength="9" lengthAdjust="spacingAndGlyphs">18</text>
<circle cx="735.5" cy="127.5" r="2.4" class="o"/>
<text transform="translate(725,131) scale(0.72,1)" font-size="14.9" class="t">7</text>
<circle cx="707.6" cy="155.4" r="2.4" class="o"/>
<text transform="translate(697,156) scale(0.72,1)" font-size="14.9" class="t">8</text>
<line x1="707.6" y1="157.6" x2="707.6" y2="911.5" class="w" stroke-width="1.3"/>
<circle cx="707.8" cy="184" r="2.7" class="j"/>
<rect x="702.8" y="197.7" width="10" height="31.9" class="r" stroke-width="2.4"/>
<text x="688" y="203" font-size="14.9" class="t" textLength="11" lengthAdjust="spacingAndGlyphs">R7</text>
<text x="679" y="221" font-size="14.9" class="t" textLength="22" lengthAdjust="spacingAndGlyphs">33kΩ</text>
<circle cx="707.8" cy="341.6" r="2.7" class="j"/>
<line x1="699.2" y1="363.5" x2="716.4" y2="363.5" class="w" stroke-width="2.4"/>
<line x1="699.2" y1="367.5" x2="716.4" y2="367.5" class="w" stroke-width="2.4"/>
<text x="687" y="356" font-size="14.9" class="t" textLength="15" lengthAdjust="spacingAndGlyphs">C25</text>
<text x="675" y="379" font-size="14.9" class="t" textLength="27" lengthAdjust="spacingAndGlyphs">150pF</text>
<line x1="762" y1="157.6" x2="762" y2="539.8" class="w" stroke-width="1.3"/>
<circle cx="762.8" cy="184.1" r="2.7" class="j"/>
<rect x="757.8" y="196.9" width="10" height="32.9" class="r" stroke-width="2.4"/>
<line x1="758" y1="213.5" x2="768" y2="213.5" class="w" stroke-width="1.2"/>
<text x="742.7" y="203" font-size="14.9" class="t" textLength="11" lengthAdjust="spacingAndGlyphs">R8</text>
<text x="740" y="221" font-size="14.9" class="t" textLength="17" lengthAdjust="spacingAndGlyphs">47kΩ</text>
<line x1="435" y1="183.8" x2="435" y2="566.6" class="w" stroke-width="1.3"/>
<rect x="430" y="197.7" width="10" height="31.9" class="r" stroke-width="2.4"/>
<text x="415" y="203" font-size="14.9" class="t" textLength="11" lengthAdjust="spacingAndGlyphs">R3</text>
<text x="409.6" y="221" font-size="14.9" class="t" textLength="21" lengthAdjust="spacingAndGlyphs">33kΩ</text>
<circle cx="477.9" cy="183.6" r="2.7" class="j"/>
<line x1="477.9" y1="183.8" x2="477.9" y2="251.3" class="w" stroke-width="1.3"/>
<rect x="472.9" y="197.7" width="10" height="31.9" class="r" stroke-width="2.4"/>
<line x1="473" y1="213.5" x2="483" y2="213.5" class="w" stroke-width="1.2"/>
<text x="460.5" y="203" font-size="14.9" class="t" textLength="10" lengthAdjust="spacingAndGlyphs">R6</text>
<text x="452.4" y="221" font-size="14.9" class="t" textLength="19" lengthAdjust="spacingAndGlyphs">10kΩ</text>
<circle cx="477.9" cy="237.9" r="2.7" class="j"/>
<polyline points="477.9,237.9 413.6,237.9 413.6,539.8" class="w" stroke-width="1.3"/>
<text transform="translate(484,240) scale(0.72,1)" font-size="14.9" class="t">5</text>
<polyline points="492.6,202.8 565,202.8 565,303.5 440.4,303.5 440.4,243.8 492.6,243.8 492.6,202.8" class="dd" stroke-width="1.3"/>
<polyline points="575.7,202.8 648,202.8 648,243.8 699.7,243.8 699.7,303.5 575.7,303.5 575.7,202.8" class="dd" stroke-width="1.3"/>
<circle cx="477.9" cy="251.3" r="2.7" class="j"/>
<polyline points="497,251.3 460.5,251.3 460.5,289.8 497,289.8" class="w" stroke-width="1.3"/>
<line x1="451.5" y1="267.9" x2="469.5" y2="267.9" class="w" stroke-width="2.4"/>
<line x1="451.5" y1="271.9" x2="469.5" y2="271.9" class="w" stroke-width="2.4"/>
<path d="M497,253 Q501.5,253 501.5,258 L501.5,283 Q501.5,288 497,288" class="w" stroke-width="1.3"/>
<ellipse cx="496.6" cy="259.6" rx="4.2" ry="2.6" class="w" stroke-width="1.3"/>
<ellipse cx="496.6" cy="266.9" rx="4.2" ry="2.6" class="w" stroke-width="1.3"/>
<ellipse cx="496.6" cy="274.1" rx="4.2" ry="2.6" class="w" stroke-width="1.3"/>
<ellipse cx="496.6" cy="281.4" rx="4.2" ry="2.6" class="w" stroke-width="1.3"/>
<circle cx="477.9" cy="289.8" r="2.7" class="j"/>
<line x1="477.9" y1="289.8" x2="477.9" y2="359" class="w" stroke-width="1.3"/>
<text x="476.5" y="264.5" font-size="14.9" class="t" textLength="13" lengthAdjust="spacingAndGlyphs">L10</text>
<text x="461.3" y="286.5" font-size="14.9" class="t" textLength="25" lengthAdjust="spacingAndGlyphs">200pF</text>
<path d="M508.5,247 L505.5,249 L505.5,294 L508.5,296" class="w" stroke-width="1.3"/>
<line x1="508" y1="252" x2="508" y2="290" class="w" stroke-width="0.8"/>
<path d="M518.5,253 Q514,253 514,258 L514,283 Q514,288 518.5,288" class="w" stroke-width="1.3"/>
<ellipse cx="519" cy="259.6" rx="4.2" ry="2.6" class="w" stroke-width="1.3"/>
<ellipse cx="519" cy="266.9" rx="4.2" ry="2.6" class="w" stroke-width="1.3"/>
<ellipse cx="519" cy="274.1" rx="4.2" ry="2.6" class="w" stroke-width="1.3"/>
<ellipse cx="519" cy="281.4" rx="4.2" ry="2.6" class="w" stroke-width="1.3"/>
<polyline points="518,251.3 557,251.3 557,289.8 570.3,289.8" class="w" stroke-width="1.3"/>
<polyline points="518,289.8 542.2,289.8" class="w" stroke-width="1.3"/>
<line x1="542.2" y1="251.3" x2="542.2" y2="289.8" class="w" stroke-width="1.3"/>
<line x1="533.4" y1="269.2" x2="551" y2="269.2" class="w" stroke-width="2.4"/>
<line x1="533.4" y1="273.2" x2="551" y2="273.2" class="w" stroke-width="2.4"/>
<text x="524.8" y="264.5" font-size="14.9" class="t" textLength="12" lengthAdjust="spacingAndGlyphs">L11</text>
<text x="524.8" y="286.5" font-size="14.9" class="t" textLength="28" lengthAdjust="spacingAndGlyphs">200pF</text>
<circle cx="570.3" cy="289.8" r="2.7" class="j"/>
<line x1="570.3" y1="289.8" x2="570.3" y2="306.7" class="w" stroke-width="1.3"/>
<line x1="562.3" y1="306.7" x2="578.3" y2="306.7" class="w" stroke-width="2.4"/>
<line x1="562.3" y1="310.7" x2="578.3" y2="310.7" class="w" stroke-width="2.4"/>
<line x1="563.6" y1="326.8" x2="574.3" y2="314.8" class="w" stroke-width="2.6"/>
<line x1="570.3" y1="310.7" x2="570.3" y2="316" class="w" stroke-width="1.3"/>
<text x="544" y="317" font-size="14.9" class="t" textLength="14" lengthAdjust="spacingAndGlyphs">C18</text>
<text x="579" y="317" font-size="14.9" class="t" textLength="26" lengthAdjust="spacingAndGlyphs">0,02µF</text>
<circle cx="611" cy="303.5" r="2.7" class="j"/>
<line x1="611" y1="303.5" x2="611" y2="314" class="w" stroke-width="1.3"/>
<line x1="605" y1="326.8" x2="616" y2="314.8" class="w" stroke-width="2.6"/>
<text transform="translate(557,298) scale(0.72,1)" font-size="14.9" class="t">1</text>
<text transform="translate(581,298) scale(0.72,1)" font-size="14.9" class="t">1</text>
<polyline points="583.7,289.8 570.3,289.8" class="w" stroke-width="1.3"/>
<polyline points="583.7,251.3 583.7,289.8 622,289.8" class="w" stroke-width="1.3"/>
<polyline points="583.7,251.3 622,251.3" class="w" stroke-width="1.3"/>
<line x1="597" y1="251.3" x2="597" y2="289.8" class="w" stroke-width="1.3"/>
<line x1="587.6" y1="269.2" x2="606.4" y2="269.2" class="w" stroke-width="2.4"/>
<line x1="587.6" y1="273.2" x2="606.4" y2="273.2" class="w" stroke-width="2.4"/>
<path d="M622.5,253 Q627,253 627,258 L627,283 Q627,288 622.5,288" class="w" stroke-width="1.3"/>
<ellipse cx="622" cy="259.6" rx="4.2" ry="2.6" class="w" stroke-width="1.3"/>
<ellipse cx="622" cy="266.9" rx="4.2" ry="2.6" class="w" stroke-width="1.3"/>
<ellipse cx="622" cy="274.1" rx="4.2" ry="2.6" class="w" stroke-width="1.3"/>
<ellipse cx="622" cy="281.4" rx="4.2" ry="2.6" class="w" stroke-width="1.3"/>
<text x="605" y="264.5" font-size="14.9" class="t" textLength="12" lengthAdjust="spacingAndGlyphs">L12</text>
<text x="585" y="286.5" font-size="14.9" class="t" textLength="24" lengthAdjust="spacingAndGlyphs">200pF</text>
<path d="M634.5,247 L631.5,249 L631.5,294 L634.5,296" class="w" stroke-width="1.3"/>
<line x1="634" y1="252" x2="634" y2="290" class="w" stroke-width="0.8"/>
<path d="M643.1,253 Q638.6,253 638.6,258 L638.6,283 Q638.6,288 643.1,288" class="w" stroke-width="1.3"/>
<ellipse cx="643.6" cy="259.6" rx="4.2" ry="2.6" class="w" stroke-width="1.3"/>
<ellipse cx="643.6" cy="266.9" rx="4.2" ry="2.6" class="w" stroke-width="1.3"/>
<ellipse cx="643.6" cy="274.1" rx="4.2" ry="2.6" class="w" stroke-width="1.3"/>
<ellipse cx="643.6" cy="281.4" rx="4.2" ry="2.6" class="w" stroke-width="1.3"/>
<polyline points="643,251.3 720.3,251.3 720.3,566.6" class="w" stroke-width="1.3"/>
<circle cx="680.2" cy="251.3" r="2.7" class="j"/>
<polyline points="643,289.8 680.2,289.8" class="w" stroke-width="1.3"/>
<line x1="680.2" y1="251.3" x2="680.2" y2="289.8" class="w" stroke-width="1.3"/>
<line x1="671.2" y1="269.2" x2="689.2" y2="269.2" class="w" stroke-width="2.4"/>
<line x1="671.2" y1="273.2" x2="689.2" y2="273.2" class="w" stroke-width="2.4"/>
<circle cx="662.2" cy="289.8" r="2.7" class="j"/>
<polyline points="662.2,289.8 662.2,390.8 776.7,390.8" class="w" stroke-width="1.3"/>
<text x="650.7" y="264.5" font-size="14.9" class="t" textLength="14" lengthAdjust="spacingAndGlyphs">L13</text>
<text x="650.7" y="286.5" font-size="14.9" class="t" textLength="25" lengthAdjust="spacingAndGlyphs">200pF</text>
<text transform="translate(678,241) scale(0.72,1)" font-size="14.9" class="t">5</text>
<polyline points="449.2,379.6 449.2,319.6 526.6,319.6 526.6,437.2" class="w" stroke-width="1.3"/>
<text x="480.6" y="335" font-size="14.9" class="g" textLength="35" lengthAdjust="spacingAndGlyphs">ECH 81</text>
<path d="M464,369.6 A24.1,24.1 0 0 1 512.2,369.6 L512.2,391.1 A24.1,24.1 0 0 1 464,391.1 Z" class="w" stroke-width="2.8"/>
<path d="M471,406.2 Q488.1,396.2 505.2,406.2" class="w" stroke-width="2.6"/>
<path d="M475,409.2 Q488.1,401.2 501.2,409.2" class="w" stroke-width="1.1"/>
<line x1="471.2" y1="359.5" x2="485.4" y2="359.5" class="w" stroke-width="2.2"/>
<polyline points="497.2,342 707.5,342" class="w" stroke-width="1.3"/>
<line x1="497.2" y1="342" x2="497.2" y2="367.5" class="w" stroke-width="1.3"/>
<line x1="490.5" y1="367.5" x2="504.7" y2="367.5" class="w" stroke-width="2.2"/>
<line x1="468" y1="368.8" x2="485" y2="368.8" class="w" stroke-width="1.2" stroke-dasharray="4 2.5"/>
<line x1="468" y1="374.2" x2="485" y2="374.2" class="w" stroke-width="1.2" stroke-dasharray="4 2.5"/>
<line x1="468" y1="379.6" x2="485" y2="379.6" class="w" stroke-width="1.2" stroke-dasharray="4 2.5"/>
<line x1="468" y1="384.9" x2="485" y2="384.9" class="w" stroke-width="1.2" stroke-dasharray="4 2.5"/>
<line x1="468" y1="391.1" x2="485" y2="391.1" class="w" stroke-width="1.2" stroke-dasharray="4 2.5"/>
<line x1="491" y1="379.6" x2="508" y2="379.6" class="w" stroke-width="1.2" stroke-dasharray="4 2.5"/>
<line x1="449.2" y1="379.6" x2="468" y2="379.6" class="w" stroke-width="1.3"/>
<circle cx="526.1" cy="379.6" r="2.7" class="j"/>
<line x1="508" y1="379.6" x2="526.1" y2="379.6" class="w" stroke-width="1.3"/>
<circle cx="435.8" cy="373.7" r="2.7" class="j"/>
<line x1="435.8" y1="373.7" x2="467" y2="373.7" class="w" stroke-width="1.3"/>
<circle cx="391.6" cy="390.8" r="2.7" class="j"/>
<line x1="391.6" y1="390.8" x2="467" y2="390.8" class="w" stroke-width="1.3"/>
<line x1="391.6" y1="243.6" x2="391.6" y2="390.8" class="w" stroke-width="1.3"/>
<polyline points="466,407.7 457,407.7 457,539.8" class="w" stroke-width="1.3"/>
<circle cx="457" cy="443.1" r="2.7" class="j"/>
<polyline points="476.5,414 476.5,443.1 457,443.1" class="w" stroke-width="1.3"/>
<line x1="498" y1="415" x2="498" y2="443" class="w" stroke-width="1.3"/>
<path d="M495.4,440 L500.6,440 L498,449 Z" fill="#000"/>
<text transform="translate(486,439) scale(0.72,1)" font-size="14.9" class="t">ż</text>
<rect x="521.1" y="437.2" width="10" height="32.7" class="r" stroke-width="2.4"/>
<line x1="526.1" y1="441" x2="526.1" y2="466" class="w" stroke-width="1.0"/>
<text x="508" y="436" font-size="14.9" class="t" textLength="10" lengthAdjust="spacingAndGlyphs">R5</text>
<text x="503" y="457" font-size="14.9" class="t" textLength="16" lengthAdjust="spacingAndGlyphs">47Ω</text>
<line x1="526.1" y1="469.9" x2="526.1" y2="492.6" class="w" stroke-width="1.3"/>
<circle cx="526.1" cy="481.9" r="2.7" class="j"/>
<line x1="508.2" y1="473.4" x2="508.2" y2="490.4" class="w" stroke-width="2.4"/>
<line x1="511.9" y1="473.4" x2="511.9" y2="490.4" class="w" stroke-width="2.4"/>
<polyline points="526.1,481.9 511.9,481.9" class="w" stroke-width="1.3"/>
<polyline points="508.2,481.9 497.4,481.9 497.4,591.7" class="w" stroke-width="1.3"/>
<text x="492.6" y="474" font-size="14.9" class="t" textLength="13" lengthAdjust="spacingAndGlyphs">C11</text>
<text x="528.8" y="487" font-size="14.9" class="t" textLength="24" lengthAdjust="spacingAndGlyphs">150pF</text>
<rect x="521.1" y="492.6" width="10" height="32.4" class="r" stroke-width="2.4"/>
<line x1="526.1" y1="496" x2="526.1" y2="521" class="w" stroke-width="1.0"/>
<text x="504.7" y="504" font-size="14.9" class="t" textLength="10" lengthAdjust="spacingAndGlyphs">R4</text>
<text x="499.3" y="520" font-size="14.9" class="t" textLength="20" lengthAdjust="spacingAndGlyphs">47kΩ</text>
<line x1="526.1" y1="525" x2="526.1" y2="539.8" class="w" stroke-width="1.3"/>
<circle cx="526.1" cy="539.5" r="2.7" class="j"/>
<line x1="404.2" y1="506.8" x2="421.4" y2="506.8" class="w" stroke-width="2.4"/>
<line x1="404.2" y1="511.4" x2="421.4" y2="511.4" class="w" stroke-width="2.4"/>
<circle cx="407.7" cy="515.4" r="1.5" class="j"/>
<text x="414.9" y="500" font-size="14.9" class="t" textLength="12" lengthAdjust="spacingAndGlyphs">C15</text>
<text x="397.5" y="530" font-size="14.9" class="t" textLength="15" lengthAdjust="spacingAndGlyphs">0,02</text>
<text x="414" y="530" font-size="14.9" class="t" textLength="9" lengthAdjust="spacingAndGlyphs">µF</text>
<line x1="426.4" y1="506.8" x2="443.6" y2="506.8" class="w" stroke-width="2.4"/>
<line x1="426.4" y1="511.4" x2="443.6" y2="511.4" class="w" stroke-width="2.4"/>
<circle cx="429.1" cy="515.4" r="1.5" class="j"/>
<text x="436.4" y="500" font-size="14.9" class="t" textLength="13" lengthAdjust="spacingAndGlyphs">C16</text>
<text x="436.4" y="530" font-size="14.9" class="t" textLength="16" lengthAdjust="spacingAndGlyphs">0,02</text>
<text x="456.5" y="526" font-size="14.9" class="t" textLength="13" lengthAdjust="spacingAndGlyphs">µF</text>
<circle cx="412.8" cy="539.8" r="2.7" class="j"/>
<circle cx="435" cy="539.8" r="2.7" class="j"/>
<circle cx="455.9" cy="539.8" r="2.7" class="j"/>
<line x1="426.4" y1="551" x2="443.6" y2="551" class="w" stroke-width="2.4"/>
<line x1="426.4" y1="555.6" x2="443.6" y2="555.6" class="w" stroke-width="2.4"/>
<text x="408" y="557" font-size="14.9" class="t" textLength="15" lengthAdjust="spacingAndGlyphs">C22</text>
<text x="444.4" y="557" font-size="14.9" class="t" textLength="29" lengthAdjust="spacingAndGlyphs">0,05µF</text>
<line x1="391.6" y1="525" x2="391.6" y2="566.6" class="w" stroke-width="1.3"/>
<polyline points="391.6,566.6 769.5,566.6" class="w" stroke-width="1.3"/>
<circle cx="434.5" cy="566.6" r="2.7" class="j"/>
<circle cx="720.4" cy="566.6" r="2.7" class="j"/>
<polyline points="740,539.5 1384,540.3" class="w" stroke-width="1.3"/>
<circle cx="802.2" cy="184.2" r="2.7" class="j"/>
<line x1="802.2" y1="183.8" x2="802.2" y2="251.3" class="w" stroke-width="1.3"/>
<text transform="translate(793,238) scale(0.72,1)" font-size="14.9" class="t">2</text>
<polyline points="768.7,243.8 912,243.8 912,303.5 768.7,303.5 768.7,243.8" class="dd" stroke-width="1.3"/>
<circle cx="911.5" cy="303.5" r="2.7" class="j"/>
<line x1="911.5" y1="303.5" x2="911.5" y2="314" class="w" stroke-width="1.3"/>
<line x1="904.8" y1="328.2" x2="918.2" y2="314" class="w" stroke-width="2.6"/>
<circle cx="802.2" cy="251.3" r="2.7" class="j"/>
<polyline points="821,251.3 784.2,251.3 784.2,289.8 821,289.8" class="w" stroke-width="1.3"/>
<line x1="775.5" y1="269.2" x2="792.9" y2="269.2" class="w" stroke-width="2.4"/>
<line x1="775.5" y1="273.2" x2="792.9" y2="273.2" class="w" stroke-width="2.4"/>
<path d="M820.9,253 Q825.4,253 825.4,258 L825.4,283 Q825.4,288 820.9,288" class="w" stroke-width="1.3"/>
<ellipse cx="820.4" cy="259.6" rx="4.2" ry="2.6" class="w" stroke-width="1.3"/>
<ellipse cx="820.4" cy="266.9" rx="4.2" ry="2.6" class="w" stroke-width="1.3"/>
<ellipse cx="820.4" cy="274.1" rx="4.2" ry="2.6" class="w" stroke-width="1.3"/>
<ellipse cx="820.4" cy="281.4" rx="4.2" ry="2.6" class="w" stroke-width="1.3"/>
<circle cx="802.2" cy="289.8" r="2.7" class="j"/>
<line x1="802.2" y1="289.8" x2="802.2" y2="359" class="w" stroke-width="1.3"/>
<text x="801.6" y="264.5" font-size="14.9" class="t" textLength="12" lengthAdjust="spacingAndGlyphs">L14</text>
<text x="785.5" y="286.5" font-size="14.9" class="t" textLength="27" lengthAdjust="spacingAndGlyphs">200pF</text>
<text transform="translate(794,300) scale(0.72,1)" font-size="14.9" class="t">1</text>
<path d="M834.5,247 L831.5,249 L831.5,294 L834.5,296" class="w" stroke-width="1.3"/>
<line x1="834" y1="252" x2="834" y2="290" class="w" stroke-width="0.8"/>
<path d="M841,253 Q836.5,253 836.5,258 L836.5,283 Q836.5,288 841,288" class="w" stroke-width="1.3"/>
<ellipse cx="841.5" cy="259.6" rx="4.2" ry="2.6" class="w" stroke-width="1.3"/>
<ellipse cx="841.5" cy="266.9" rx="4.2" ry="2.6" class="w" stroke-width="1.3"/>
<ellipse cx="841.5" cy="274.1" rx="4.2" ry="2.6" class="w" stroke-width="1.3"/>
<ellipse cx="841.5" cy="281.4" rx="4.2" ry="2.6" class="w" stroke-width="1.3"/>
<polyline points="841,251.3 954.3,251.3 954.3,396.4 1042.2,396.4" class="w" stroke-width="1.3"/>
<circle cx="878.5" cy="251.8" r="2.7" class="j"/>
<polyline points="841,289.8 878.5,289.8" class="w" stroke-width="1.3"/>
<line x1="878.5" y1="251.3" x2="878.5" y2="539.8" class="w" stroke-width="1.3"/>
<line x1="870.1" y1="269.2" x2="886.9" y2="269.2" class="w" stroke-width="2.4"/>
<line x1="870.1" y1="273.2" x2="886.9" y2="273.2" class="w" stroke-width="2.4"/>
<circle cx="878.5" cy="290.7" r="2.7" class="j"/>
<text x="849.8" y="264.5" font-size="14.9" class="t" textLength="13" lengthAdjust="spacingAndGlyphs">L15</text>
<text x="879.3" y="286.5" font-size="14.9" class="t" textLength="23" lengthAdjust="spacingAndGlyphs">110pF</text>
<text transform="translate(870,289) scale(0.72,1)" font-size="14.9" class="t">3</text>
<text transform="translate(878,236) scale(0.72,1)" font-size="14.9" class="t">4</text>
<path d="M776.7,369.8 A24.2,24.2 0 0 1 825.2,369.8 L825.2,390.9 A24.2,24.2 0 0 1 776.7,390.9 Z" class="w" stroke-width="2.8"/>
<path d="M783.7,406.2 Q801,396.2 818.2,406.2" class="w" stroke-width="2.6"/>
<path d="M787.7,409.2 Q801,401.2 814.2,409.2" class="w" stroke-width="1.1"/>
<line x1="792.2" y1="359.5" x2="809.7" y2="359.5" class="w" stroke-width="2.2"/>
<line x1="801" y1="359.5" x2="801" y2="359" class="w" stroke-width="1.3"/>
<line x1="786.9" y1="369.4" x2="815" y2="369.4" class="w" stroke-width="1.2" stroke-dasharray="4 2.5"/>
<line x1="786.9" y1="380.1" x2="815" y2="380.1" class="w" stroke-width="1.2" stroke-dasharray="4 2.5"/>
<line x1="786.9" y1="390.8" x2="815" y2="390.8" class="w" stroke-width="1.2" stroke-dasharray="4 2.5"/>
<polyline points="815,369.4 839.7,369.4 839.7,443 775.6,443" class="w" stroke-width="1.3"/>
<circle cx="762" cy="380.1" r="2.7" class="j"/>
<line x1="762" y1="380.1" x2="776.7" y2="380.1" class="w" stroke-width="1.3"/>
<text x="828.4" y="342" font-size="14.9" class="g" textLength="25" lengthAdjust="spacingAndGlyphs">EF89</text>
<text transform="translate(796,338) rotate(-90)" font-size="13.8" class="g" textLength="19" lengthAdjust="spacingAndGlyphs">195V</text>
<text transform="translate(813,343) rotate(-90)" font-size="13.8" class="g" textLength="30" lengthAdjust="spacingAndGlyphs">10,7mA</text>
<polyline points="778,407.7 775.6,407.7 775.6,539.8" class="w" stroke-width="1.3"/>
<circle cx="775.6" cy="443" r="2.7" class="j"/>
<circle cx="775.6" cy="462.1" r="2.7" class="j"/>
<polyline points="789,414 789,462.1 775.6,462.1" class="w" stroke-width="1.3"/>
<line x1="811" y1="418" x2="811" y2="432.5" class="w" stroke-width="1.3"/>
<path d="M808.4,429.5 L813.6,429.5 L811,438.5 Z" fill="#000"/>
<text transform="translate(800,433) scale(0.72,1)" font-size="14.9" class="t">ż</text>
<circle cx="762" cy="380.1" r="2.7" class="j"/>
<line x1="753.6" y1="468.5" x2="770.4" y2="468.5" class="w" stroke-width="2.4"/>
<line x1="753.6" y1="472.5" x2="770.4" y2="472.5" class="w" stroke-width="2.4"/>
<circle cx="757" cy="476.8" r="2.1" class="j"/>
<text x="742" y="470" font-size="14.9" class="t" textLength="13" lengthAdjust="spacingAndGlyphs">C28</text>
<text x="736" y="492" font-size="13.8" class="t" textLength="25" lengthAdjust="spacingAndGlyphs">0,02µF</text>
<polyline points="797.6,539.8 797.6,457.3 877.4,457.3" class="w" stroke-width="1.3"/>
<line x1="788.9" y1="496.1" x2="806.3" y2="496.1" class="w" stroke-width="2.4"/>
<line x1="788.9" y1="500.7" x2="806.3" y2="500.7" class="w" stroke-width="2.4"/>
<text x="779.5" y="495" font-size="14.9" class="t" textLength="13" lengthAdjust="spacingAndGlyphs">C29</text>
<text x="776.2" y="514" font-size="14.9" class="t" textLength="19" lengthAdjust="spacingAndGlyphs">51pF</text>
<circle cx="819.6" cy="457.3" r="2.7" class="j"/>
<circle cx="840.5" cy="456.5" r="2.7" class="j"/>
<circle cx="877.4" cy="456.5" r="2.7" class="j"/>
<line x1="819.6" y1="457.3" x2="819.6" y2="539.8" class="w" stroke-width="1.3"/>
<rect x="814.6" y="482.2" width="10" height="32.1" class="r" stroke-width="2.4"/>
<line x1="819.6" y1="486" x2="819.6" y2="511" class="w" stroke-width="1.0"/>
<text x="805" y="479" font-size="14.9" class="t" textLength="13" lengthAdjust="spacingAndGlyphs">R10</text>
<text x="800.3" y="526" font-size="14.9" class="t" textLength="32" lengthAdjust="spacingAndGlyphs">390 kΩ</text>
<line x1="840.5" y1="456" x2="840.5" y2="726" class="w" stroke-width="1.3"/>
<polyline points="858.4,566.6 858.4,374.2 900,374.2 900,566.6 877.4,566.6" class="w" stroke-width="1.3"/>
<circle cx="877.4" cy="374.2" r="2.7" class="j"/>
<rect x="872.4" y="396.4" width="10" height="32.7" class="r" stroke-width="2.4"/>
<line x1="877.4" y1="400" x2="877.4" y2="425" class="w" stroke-width="1.0"/>
<text x="862" y="394" font-size="14.9" class="t" textLength="13" lengthAdjust="spacingAndGlyphs">R11</text>
<text x="884.7" y="410" font-size="14.9" class="t" textLength="15" lengthAdjust="spacingAndGlyphs">220</text>
<text x="884.7" y="424" font-size="14.9" class="t" textLength="11" lengthAdjust="spacingAndGlyphs">kΩ</text>
<line x1="891.3" y1="441.2" x2="908.7" y2="441.2" class="w" stroke-width="2.4"/>
<line x1="891.3" y1="445.7" x2="908.7" y2="445.7" class="w" stroke-width="2.4"/>
<circle cx="890" cy="431.8" r="1" class="j"/>
<text x="900.7" y="437" font-size="14.9" class="t" textLength="15" lengthAdjust="spacingAndGlyphs">C31</text>
<text x="900.7" y="460" font-size="14.9" class="t" textLength="17" lengthAdjust="spacingAndGlyphs">75pF</text>
<rect x="872.4" y="482.2" width="10" height="32.1" class="r" stroke-width="2.4"/>
<line x1="877.4" y1="486" x2="877.4" y2="511" class="w" stroke-width="1.0"/>
<text x="862" y="480" font-size="14.9" class="t" textLength="13" lengthAdjust="spacingAndGlyphs">R12</text>
<text x="862.7" y="528" font-size="14.9" class="t" textLength="30" lengthAdjust="spacingAndGlyphs">2,2 MΩ</text>
<line x1="877.4" y1="514.3" x2="877.4" y2="592.1" class="w" stroke-width="1.3"/>
<circle cx="877.4" cy="566.6" r="2.7" class="j"/>
<circle cx="899.4" cy="539.8" r="2.7" class="j"/>
<circle cx="762" cy="539.8" r="2.7" class="j"/>
<circle cx="775.6" cy="539.8" r="2.7" class="j"/>
<circle cx="797.6" cy="539.8" r="2.7" class="j"/>
<circle cx="819.6" cy="539.8" r="2.7" class="j"/>
<circle cx="964.5" cy="539.8" r="2.7" class="j"/>
<circle cx="1042.2" cy="539.8" r="2.7" class="j"/>
<line x1="891.5" y1="551.8" x2="908.5" y2="551.8" class="w" stroke-width="2.4"/>
<line x1="891.5" y1="555.9" x2="908.5" y2="555.9" class="w" stroke-width="2.4"/>
<text x="879.3" y="556" font-size="13.8" class="t" textLength="11" lengthAdjust="spacingAndGlyphs">C30</text>
<text x="900" y="568" font-size="14.9" class="t" textLength="27" lengthAdjust="spacingAndGlyphs">0,02µF</text>
<rect x="769.5" y="562.2" width="34" height="9" class="r" stroke-width="2.4"/>
<line x1="773" y1="566.7" x2="800" y2="566.7" class="w" stroke-width="1.0"/>
<polyline points="803.5,566.6 858.4,566.6" class="w" stroke-width="1.3"/>
<text x="754.7" y="559" font-size="14.9" class="t" textLength="12" lengthAdjust="spacingAndGlyphs">Rg</text>
<text x="773.5" y="558" font-size="14.9" class="t" textLength="22" lengthAdjust="spacingAndGlyphs">2MΩ</text>
<polyline points="922.2,592.1 922.2,391.1 930.8,391.1" class="w" stroke-width="1.3"/>
<line x1="930.8" y1="383.1" x2="930.8" y2="399.1" class="w" stroke-width="2.4"/>
<line x1="935" y1="383.1" x2="935" y2="399.1" class="w" stroke-width="2.4"/>
<polyline points="935,391.1 979.5,391.1" class="w" stroke-width="1.3"/>
<circle cx="943.6" cy="391.1" r="2.7" class="j"/>
<text x="920" y="375" font-size="14.9" class="t" textLength="31" lengthAdjust="spacingAndGlyphs">0,02µF</text>
<text x="924.9" y="416" font-size="14.9" class="t" textLength="14" lengthAdjust="spacingAndGlyphs">C35</text>
<line x1="943.6" y1="391.1" x2="943.6" y2="539.8" class="w" stroke-width="1.3"/>
<rect x="938.6" y="482.2" width="10" height="32.7" class="r" stroke-width="2.4"/>
<line x1="943.6" y1="486" x2="943.6" y2="511" class="w" stroke-width="1.0"/>
<text x="923.5" y="501" font-size="14.9" class="t" textLength="13" lengthAdjust="spacingAndGlyphs">R21</text>
<text x="923.5" y="527" font-size="13.8" class="t" textLength="19" lengthAdjust="spacingAndGlyphs">10MΩ</text>
<circle cx="942.8" cy="539.8" r="2.7" class="j"/>
<line x1="964.5" y1="380.1" x2="964.5" y2="539.8" class="w" stroke-width="1.3"/>
<line x1="955.9" y1="454.6" x2="973.1" y2="454.6" class="w" stroke-width="2.4"/>
<line x1="955.9" y1="459.4" x2="973.1" y2="459.4" class="w" stroke-width="2.4"/>
<circle cx="959.7" cy="464" r="1.5" class="j"/>
<text x="949" y="453" font-size="14.9" class="t" textLength="14" lengthAdjust="spacingAndGlyphs">C36</text>
<text x="946.3" y="481" font-size="13.8" class="t" textLength="19" lengthAdjust="spacingAndGlyphs">0,1µF</text>
<circle cx="965.9" cy="184.4" r="2.7" class="j"/>
<line x1="965.9" y1="183.8" x2="965.9" y2="380.1" class="w" stroke-width="1.3"/>
<rect x="960.9" y="260.6" width="10" height="32.2" class="r" stroke-width="2.4"/>
<line x1="961" y1="276.7" x2="971" y2="276.7" class="w" stroke-width="1.2"/>
<text x="971.7" y="258" font-size="14.9" class="t" textLength="16" lengthAdjust="spacingAndGlyphs">R22</text>
<text x="973" y="279" font-size="14.9" class="t" textLength="17" lengthAdjust="spacingAndGlyphs">1MΩ</text>
<circle cx="965.6" cy="380.1" r="2.7" class="j"/>
<line x1="965.6" y1="380.1" x2="981" y2="380.1" class="w" stroke-width="1.3"/>
<path d="M979.2,369.9 A24.4,24.4 0 0 1 1028,369.9 L1028,390.8 A24.4,24.4 0 0 1 979.2,390.8 Z" class="w" stroke-width="2.8"/>
<path d="M986.2,406.2 Q1003.6,396.2 1021,406.2" class="w" stroke-width="2.6"/>
<path d="M990.2,409.2 Q1003.6,401.2 1017,409.2" class="w" stroke-width="1.1"/>
<line x1="997.2" y1="360.3" x2="1012" y2="360.3" class="w" stroke-width="2.2"/>
<line x1="989" y1="369.4" x2="1020" y2="369.4" class="w" stroke-width="1.2" stroke-dasharray="4 2.5"/>
<line x1="989" y1="380.1" x2="1020" y2="380.1" class="w" stroke-width="1.2" stroke-dasharray="4 2.5"/>
<line x1="989" y1="390.8" x2="1020" y2="390.8" class="w" stroke-width="1.2" stroke-dasharray="4 2.5"/>
<line x1="990.4" y1="401.8" x2="1000.2" y2="398.3" class="w" stroke-width="2.2"/>
<line x1="1007.9" y1="398.3" x2="1018.3" y2="401.8" class="w" stroke-width="2.2"/>
<text x="967.7" y="337" font-size="14.9" class="g" textLength="29" lengthAdjust="spacingAndGlyphs">EBF89</text>
<polyline points="1028,369.4 1042.2,369.4" class="w" stroke-width="1.3"/>
<circle cx="1042.2" cy="369.4" r="2.7" class="j"/>
<circle cx="1042.2" cy="396.4" r="2.7" class="j"/>
<polyline points="980,409 979.2,409 979.2,580" class="w" stroke-width="1.3"/>
<circle cx="978.4" cy="443.9" r="2.7" class="j"/>
<polyline points="992.4,414 992.4,443.9 978.4,443.9" class="w" stroke-width="1.3"/>
<line x1="1014.6" y1="418.4" x2="1014.6" y2="441.9" class="w" stroke-width="1.3"/>
<path d="M1012,438.9 L1017.2,438.9 L1014.6,447.9 Z" fill="#000"/>
<text transform="translate(1003,438) scale(0.72,1)" font-size="14.9" class="t">ż</text>
<circle cx="978.4" cy="539.8" r="2.7" class="j"/>
<circle cx="978.6" cy="580.9" r="2.2" class="o"/>
<polyline points="978.6,583 978.6,594.3 1022.8,594.3 1022.8,911" class="w" stroke-width="1.3"/>
<text x="983.8" y="576" font-size="14.9" class="g" textLength="27" lengthAdjust="spacingAndGlyphs">Masa</text>
<circle cx="1005.2" cy="184.5" r="2.7" class="j"/>
<line x1="1005.2" y1="183.8" x2="1005.2" y2="360.3" class="w" stroke-width="1.3"/>
<rect x="1000.2" y="200.4" width="10" height="32.6" class="r" stroke-width="2.4"/>
<line x1="1000.2" y1="216.7" x2="1010.2" y2="216.7" class="w" stroke-width="1.2"/>
<text x="1013.3" y="213" font-size="14.9" class="t" textLength="17" lengthAdjust="spacingAndGlyphs">R23</text>
<text x="1012" y="228" font-size="14.9" class="t" textLength="24" lengthAdjust="spacingAndGlyphs">22kΩ</text>
<circle cx="1005.2" cy="247" r="2.7" class="j"/>
<polyline points="1005.2,247 1042.7,247 1042.7,539.8" class="w" stroke-width="1.3"/>
<rect x="1000.2" y="260.6" width="10" height="32.2" class="r" stroke-width="2.4"/>
<line x1="1000.2" y1="276.7" x2="1010.2" y2="276.7" class="w" stroke-width="1.2"/>
<text x="1013.3" y="263" font-size="14.9" class="t" textLength="16" lengthAdjust="spacingAndGlyphs">R24</text>
<text x="1012" y="277" font-size="14.9" class="t" textLength="25" lengthAdjust="spacingAndGlyphs">220kΩ</text>
<line x1="1034.7" y1="282" x2="1051.3" y2="282" class="w" stroke-width="2.6"/>
<line x1="1034.7" y1="285" x2="1051.3" y2="285" class="w" stroke-width="2.6"/>
<circle cx="1036.8" cy="288.8" r="1.6" class="j"/>
<text x="1046.8" y="276" font-size="14.9" class="t" textLength="16" lengthAdjust="spacingAndGlyphs">C28</text>
<text x="1045.4" y="299" font-size="14.9" class="t" textLength="25" lengthAdjust="spacingAndGlyphs">0,1µF</text>
<circle cx="1004.7" cy="320.1" r="2.7" class="j"/>
<polyline points="1004.7,320.1 1021.7,320.1" class="w" stroke-width="1.3"/>
<line x1="1021.7" y1="312.1" x2="1021.7" y2="328.1" class="w" stroke-width="1.6"/>
<line x1="1025.8" y1="312.1" x2="1025.8" y2="328.1" class="w" stroke-width="1.6"/>
<polyline points="1025.8,320.7 1078.9,320.7" class="w" stroke-width="1.3"/>
<circle cx="1064.2" cy="320.7" r="2.7" class="j"/>
<rect x="1078.9" y="315.9" width="32.1" height="9.5" class="r" stroke-width="2.4"/>
<line x1="1082" y1="320.7" x2="1108" y2="320.7" class="w" stroke-width="1.0"/>
<text x="1006.6" y="313" font-size="14.9" class="t" textLength="15" lengthAdjust="spacingAndGlyphs">C37</text>
<text x="1008" y="340" font-size="14.9" class="t" textLength="32" lengthAdjust="spacingAndGlyphs">0,02µF</text>
<circle cx="1030.8" cy="325.5" r="1.8" class="j"/>
<text x="1084.3" y="311" font-size="14.9" class="t" textLength="19" lengthAdjust="spacingAndGlyphs">R25</text>
<text x="1080.3" y="339" font-size="14.9" class="t" textLength="29" lengthAdjust="spacingAndGlyphs">100kΩ</text>
<line x1="1063.6" y1="320.7" x2="1063.6" y2="592.1" class="w" stroke-width="1.3"/>
<line x1="1054.9" y1="373" x2="1072.3" y2="373" class="w" stroke-width="2.4"/>
<line x1="1054.9" y1="377.2" x2="1072.3" y2="377.2" class="w" stroke-width="2.4"/>
<circle cx="1063.6" cy="429.7" r="2.7" class="j"/>
<polyline points="1063.6,429.7 1125,429.7 1125,320.7" class="w" stroke-width="1.3"/>
<line x1="1116.5" y1="373" x2="1133.5" y2="373" class="w" stroke-width="2.4"/>
<line x1="1116.5" y1="377.2" x2="1133.5" y2="377.2" class="w" stroke-width="2.4"/>
<text x="1047.6" y="366" font-size="14.9" class="t" textLength="15" lengthAdjust="spacingAndGlyphs">C39</text>
<text x="1064.2" y="391" font-size="14.9" class="t" textLength="29" lengthAdjust="spacingAndGlyphs">2400pF</text>
<text x="1103" y="366" font-size="14.9" class="t" textLength="16" lengthAdjust="spacingAndGlyphs">C40</text>
<text x="1104.4" y="391" font-size="14.9" class="t" textLength="35" lengthAdjust="spacingAndGlyphs">1000 pF</text>
<polyline points="1111,320.7 1306.3,321.5 1306.3,458 1332.5,458" class="w" stroke-width="1.3"/>
<circle cx="1124.6" cy="321.5" r="2.7" class="j"/>
<circle cx="1146.3" cy="321.5" r="2.7" class="j"/>
<circle cx="1167.5" cy="321.5" r="2.7" class="j"/>
<line x1="1177.7" y1="313" x2="1177.7" y2="330" class="w" stroke-width="2.4"/>
<line x1="1181.7" y1="313" x2="1181.7" y2="330" class="w" stroke-width="2.4"/>
<circle cx="1172.3" cy="325.5" r="1.9" class="j"/>
<text x="1160.3" y="312" font-size="14.9" class="t" textLength="16" lengthAdjust="spacingAndGlyphs">C41</text>
<text x="1192.4" y="335" font-size="14.9" class="t" textLength="21" lengthAdjust="spacingAndGlyphs">10pF</text>
<circle cx="1228.6" cy="321.5" r="2.7" class="j"/>
<circle cx="1283" cy="321.5" r="2.7" class="j"/>
<text x="1287" y="313" font-size="14.9" class="t" textLength="9" lengthAdjust="spacingAndGlyphs">15</text>
<line x1="1228.6" y1="321.5" x2="1228.6" y2="360.3" class="w" stroke-width="1.3"/>
<text x="1215.2" y="313" font-size="14.9" class="g" textLength="29" lengthAdjust="spacingAndGlyphs">EL 84</text>
<text transform="translate(1242,343) rotate(-90)" font-size="13.8" class="g" textLength="19" lengthAdjust="spacingAndGlyphs">260V</text>
<path d="M1204,369.9 A24.4,24.4 0 0 1 1252.7,369.9 L1252.7,391.3 A24.4,24.4 0 0 1 1204,391.3 Z" class="w" stroke-width="2.8"/>
<path d="M1211,406.7 Q1228.3,396.7 1245.7,406.7" class="w" stroke-width="2.6"/>
<path d="M1215,409.7 Q1228.3,401.7 1241.7,409.7" class="w" stroke-width="1.1"/>
<line x1="1219.2" y1="360.3" x2="1238" y2="360.3" class="w" stroke-width="2.2"/>
<line x1="1214" y1="369.7" x2="1245" y2="369.7" class="w" stroke-width="1.2" stroke-dasharray="4 2.5"/>
<line x1="1214" y1="380.9" x2="1245" y2="380.9" class="w" stroke-width="1.2" stroke-dasharray="4 2.5"/>
<line x1="1214" y1="392.2" x2="1245" y2="392.2" class="w" stroke-width="1.2" stroke-dasharray="4 2.5"/>
<polyline points="1240,369.7 1246.8,369.7 1246.8,397" class="w" stroke-width="1.3"/>
<circle cx="1191.6" cy="184.8" r="2.7" class="j"/>
<polyline points="1191.6,183.8 1191.6,380.9 1215,380.9" class="w" stroke-width="1.3"/>
<rect x="1163.3" y="340.8" width="10" height="31.6" class="r" stroke-width="2.4"/>
<line x1="1168.3" y1="344" x2="1168.3" y2="369" class="w" stroke-width="1.0"/>
<line x1="1168.3" y1="321.5" x2="1168.3" y2="340.8" class="w" stroke-width="1.3"/>
<polyline points="1168.3,372.4 1168.3,392.5 1215,392.5" class="w" stroke-width="1.3"/>
<text x="1146.9" y="336" font-size="14.9" class="t" textLength="17" lengthAdjust="spacingAndGlyphs">R28</text>
<text x="1146.9" y="359" font-size="14.9" class="t" textLength="17" lengthAdjust="spacingAndGlyphs">10kΩ</text>
<line x1="1146.3" y1="321.5" x2="1146.3" y2="540.3" class="w" stroke-width="1.3"/>
<rect x="1141.1" y="482.7" width="10" height="32.2" class="r" stroke-width="2.4"/>
<line x1="1146.1" y1="486" x2="1146.1" y2="511" class="w" stroke-width="1.0"/>
<text x="1121.4" y="492" font-size="14.9" class="t" textLength="17" lengthAdjust="spacingAndGlyphs">R27</text>
<text x="1120" y="509" font-size="14.9" class="t" textLength="19" lengthAdjust="spacingAndGlyphs">1MΩ</text>
<polyline points="1209,408.5 1160.3,408.5 1160.3,595" class="w" stroke-width="1.3"/>
<line x1="1217.3" y1="415" x2="1217.3" y2="429.8" class="w" stroke-width="1.3"/>
<path d="M1214.7,426.8 L1219.9,426.8 L1217.3,435.8 Z" fill="#000"/>
<polyline points="1217.3,435.8 1173.7,435.8 1173.7,595" class="w" stroke-width="1.3"/>
<text transform="translate(1221,431) scale(0.72,1)" font-size="14.9" class="t">ż</text>
<line x1="1239.3" y1="415" x2="1239.3" y2="540.3" class="w" stroke-width="1.3"/>
<polyline points="1186.3,592.1 1186.3,458 1222.4,458 1222.4,494.7" class="w" stroke-width="1.3"/>
<line x1="1222.4" y1="499.2" x2="1222.4" y2="540.3" class="w" stroke-width="1.3"/>
<circle cx="1201" cy="458" r="2.7" class="j"/>
<line x1="1201" y1="458" x2="1201" y2="482.7" class="w" stroke-width="1.3"/>
<rect x="1196" y="482.7" width="10" height="32.2" class="r" stroke-width="2.4"/>
<line x1="1196" y1="498.8" x2="1206" y2="498.8" class="w" stroke-width="1.2"/>
<line x1="1201" y1="514.9" x2="1201" y2="595" class="w" stroke-width="1.3"/>
<text x="1187" y="477" font-size="14.9" class="t" textLength="13" lengthAdjust="spacingAndGlyphs">R30</text>
<text x="1187.9" y="525" font-size="14.9" class="t" textLength="34" lengthAdjust="spacingAndGlyphs">150Ω±5%</text>
<line x1="1214.2" y1="494.7" x2="1231" y2="494.7" class="w" stroke-width="2.6"/>
<path d="M1211.3,493.3 L1211.3,499.2 L1233.5,499.2 L1233.5,493.3" class="w" stroke-width="1.3"/>
<text x="1224.6" y="488" font-size="14.9" class="t" textLength="13" lengthAdjust="spacingAndGlyphs">C44</text>
<text x="1224.6" y="511" font-size="14.9" class="t" textLength="11" lengthAdjust="spacingAndGlyphs">50</text>
<text x="1240.7" y="501" font-size="14.9" class="t" textLength="21" lengthAdjust="spacingAndGlyphs">50µF</text>
<text x="1240.7" y="519" font-size="14.9" class="t" textLength="27" lengthAdjust="spacingAndGlyphs">12/15V</text>
<line x1="1213.3" y1="540.3" x2="1213.3" y2="621.7" class="w" stroke-width="1.3"/>
<circle cx="1146.1" cy="540.3" r="2.7" class="j"/>
<circle cx="1201" cy="540.3" r="2.7" class="j"/>
<circle cx="1213.3" cy="540.3" r="2.7" class="j"/>
<circle cx="1222.3" cy="540.3" r="2.7" class="j"/>
<circle cx="1239" cy="540.3" r="2.7" class="j"/>
<circle cx="1282.7" cy="540.3" r="2.7" class="j"/>
<line x1="1283" y1="321.5" x2="1283" y2="540.3" class="w" stroke-width="1.3"/>
<line x1="1273.9" y1="427.8" x2="1291.5" y2="427.8" class="w" stroke-width="2.4"/>
<line x1="1273.9" y1="432.3" x2="1291.5" y2="432.3" class="w" stroke-width="2.4"/>
<circle cx="1287.5" cy="436.4" r="1.2" class="j"/>
<text x="1284.9" y="451" font-size="14.9" class="t" textLength="19" lengthAdjust="spacingAndGlyphs">2400</text>
<text x="1286.2" y="465" font-size="14.9" class="t" textLength="12" lengthAdjust="spacingAndGlyphs">pF</text>
<circle cx="1447.8" cy="226.9" r="2.7" class="j"/>
<polyline points="1447.8,226.9 1414.8,226.9" class="w" stroke-width="1.3"/>
<path d="M1373.3,226.9 L1374.45,222 L1376.76,231.8 L1379.06,222 L1381.37,231.8 L1383.67,222 L1385.98,231.8 L1388.29,222 L1390.59,231.8 L1392.90,222 L1395.20,231.8 L1397.51,222 L1399.81,231.8 L1402.12,222 L1404.42,231.8 L1406.73,222 L1409.04,231.8 L1411.34,222 L1413.65,231.8 L1414.8,226.9" class="w" stroke-width="1.5"/>
<polyline points="1373.3,226.9 1333.1,226.9 1333.1,262.5" class="w" stroke-width="1.3"/>
<circle cx="1333.1" cy="264.7" r="2.4" class="o"/>
<circle cx="1447.5" cy="265.2" r="2.4" class="o"/>
<line x1="1333.1" y1="266.9" x2="1333.1" y2="375" class="w" stroke-width="1.3"/>
<text x="1386.7" y="215" font-size="14.9" class="t" textLength="17" lengthAdjust="spacingAndGlyphs">R29</text>
<text x="1368" y="244" font-size="14.9" class="t" textLength="43" lengthAdjust="spacingAndGlyphs">12kΩ 5%</text>
<text x="1338.4" y="269" font-size="14.9" class="t" textLength="9" lengthAdjust="spacingAndGlyphs">14</text>
<text x="1452.3" y="269" font-size="14.9" class="t" textLength="11" lengthAdjust="spacingAndGlyphs">16</text>
<polyline points="1358.5,375 1358.5,267.3 1398.2,267.3 1398.2,284" class="w" stroke-width="1.3"/>
<rect x="1394.5" y="284" width="8" height="21.4" class="r" stroke-width="2"/>
<path d="M1402.8,286.5 L1421.5,281.3 L1421.5,306.7 L1402.8,302" class="w" stroke-width="1.6"/>
<text x="1400" y="320" font-size="14.9" class="t" textLength="26" lengthAdjust="spacingAndGlyphs">Z-5Ω</text>
<line x1="1398.2" y1="305.4" x2="1398.2" y2="402.3" class="w" stroke-width="1.3"/>
<polyline points="1319.2,402.3 1319.2,334.9 1434,334.9 1431.4,789.6" class="w" stroke-width="1.3"/>
<line x1="1319.2" y1="402.3" x2="1332.5" y2="402.3" class="w" stroke-width="1.3"/>
<rect x="1332.5" y="375" width="8" height="83.6" fill="#000"/>
<rect x="1348.6" y="375" width="8.6" height="83.6" fill="#000"/>
<line x1="1344.3" y1="368.8" x2="1344.3" y2="462.6" class="w" stroke-width="1.0"/>
<text x="1338.4" y="361" font-size="14.9" class="t" textLength="16" lengthAdjust="spacingAndGlyphs">Tr2</text>
<text transform="translate(1324,385) scale(0.72,1)" font-size="14.9" class="t">c</text>
<text transform="translate(1324,400) scale(0.72,1)" font-size="14.9" class="t">b</text>
<text transform="translate(1359,385) scale(0.72,1)" font-size="14.9" class="t">d</text>
<text transform="translate(1359,400) scale(0.72,1)" font-size="14.9" class="t">e</text>
<text transform="translate(1325,455) scale(0.72,1)" font-size="14.9" class="t">a</text>
<text transform="translate(1360,455) scale(0.72,1)" font-size="14.9" class="t">f</text>
<polyline points="1357.2,402.3 1420,402.3" class="w" stroke-width="1.3"/>
<circle cx="1370.6" cy="402.3" r="2.7" class="j"/>
<circle cx="1384" cy="402.3" r="2.7" class="j"/>
<circle cx="1398.2" cy="402.3" r="2.7" class="j"/>
<polyline points="1357.2,458 1420,458" class="w" stroke-width="1.3"/>
<circle cx="1384" cy="458" r="2.7" class="j"/>
<path d="M1427.5,397 A6,6 0 0 0 1427.5,409" class="w" stroke-width="1.8"/>
<path d="M1427.5,452.5 A6,6 0 0 0 1427.5,464.5" class="w" stroke-width="1.8"/>
<line x1="1384" y1="402.3" x2="1384" y2="420.6" class="w" stroke-width="1.3"/>
<rect x="1380" y="420.6" width="8" height="21.4" class="r" stroke-width="2"/>
<path d="M1388,423 L1408,417 L1408,445.2 L1388,440" class="w" stroke-width="1.6"/>
<text x="1385.3" y="455" font-size="13.8" class="t" textLength="22" lengthAdjust="spacingAndGlyphs">Z-15Ω</text>
<line x1="1384" y1="442" x2="1384" y2="540.3" class="w" stroke-width="1.3"/>
<text transform="translate(1432,448) rotate(-90)" font-size="13.8" class="g" textLength="40" lengthAdjust="spacingAndGlyphs">Głośnik</text>
<text transform="translate(1446,461) rotate(-90)" font-size="13.8" class="g" textLength="54" lengthAdjust="spacingAndGlyphs">dodatkowy</text>
<polyline points="1370.6,402.3 1370.6,499.3 1354,499.3" class="w" stroke-width="1.3"/>
<rect x="1321.8" y="494.9" width="32.2" height="9.3" class="r" stroke-width="2.4"/>
<line x1="1345" y1="495" x2="1345" y2="504" class="w" stroke-width="1.2"/>
<polyline points="1321.8,499.3 1305,499.3 1305,608.4 1098.2,608.4 1098.2,833" class="w" stroke-width="1.3"/>
<text x="1330.4" y="489" font-size="14.9" class="t" textLength="16" lengthAdjust="spacingAndGlyphs">R31</text>
<text x="1317" y="518" font-size="14.9" class="t" textLength="46" lengthAdjust="spacingAndGlyphs">560Ω±5%</text>
<polyline points="480,594.1 483.9,594.1 483.9,924.8 686.3,924.8 701.2,906.5" class="ds" stroke-width="1.3"/>
<line x1="701.2" y1="906.5" x2="714" y2="884.5" class="w" stroke-width="1.3"/>
<circle cx="497.4" cy="593.9" r="2.4" class="o"/>
<text transform="translate(503,597) scale(0.72,1)" font-size="14.9" class="t">2</text>
<polyline points="497.4,596.1 497.4,770.5 530,770.5" class="w" stroke-width="1.3"/>
<circle cx="706.8" cy="593.9" r="2.4" class="o"/>
<text transform="translate(712,597) scale(0.72,1)" font-size="14.9" class="t">3</text>
<circle cx="545" cy="585.7" r="2.4" class="o"/>
<circle cx="545" cy="607.6" r="2.4" class="o"/>
<circle cx="545" cy="629" r="2.4" class="o"/>
<circle cx="545" cy="653.7" r="2.4" class="o"/>
<text transform="translate(549,593) scale(0.72,1)" font-size="14.9" class="t">9</text>
<text transform="translate(551,606) scale(0.72,1)" font-size="14.9" class="t">8</text>
<text transform="translate(552,629) scale(0.72,1)" font-size="14.9" class="t">7</text>
<text transform="translate(548,655) scale(0.72,1)" font-size="14.9" class="t">9</text>
<line x1="538.6" y1="587.9" x2="538.6" y2="607.2" class="w" stroke-width="3"/>
<text transform="translate(527,600) scale(0.72,1)" font-size="14.9" class="t">b</text>
<polyline points="542.8,585.7 519.7,585.7 519.7,910.9" class="w" stroke-width="1.3"/>
<circle cx="519.7" cy="653.7" r="2.7" class="j"/>
<circle cx="519.7" cy="725.5" r="2.7" class="j"/>
<circle cx="519.3" cy="814" r="2.7" class="j"/>
<line x1="519.7" y1="653.7" x2="542.8" y2="653.7" class="w" stroke-width="1.3"/>
<polyline points="545,631.2 545,640.4 530.4,640.4 530.4,857.3 542.2,857.3" class="w" stroke-width="1.3"/>
<circle cx="530.4" cy="697.2" r="2.7" class="j"/>
<circle cx="530" cy="769.9" r="2.7" class="j"/>
<polyline points="547.2,607.6 577.2,609.3" class="w" stroke-width="1.3"/>
<path d="M577.8,608 Q582.5,608 582.5,613 L582.5,644 Q582.5,649 577.8,649" class="w" stroke-width="1.3"/>
<ellipse cx="577.3" cy="614.5" rx="4.5" ry="2.5" class="w" stroke-width="1.3"/>
<ellipse cx="577.3" cy="621.5" rx="4.5" ry="2.5" class="w" stroke-width="1.3"/>
<ellipse cx="577.3" cy="628.5" rx="4.5" ry="2.5" class="w" stroke-width="1.3"/>
<ellipse cx="577.3" cy="635.5" rx="4.5" ry="2.5" class="w" stroke-width="1.3"/>
<ellipse cx="577.3" cy="642.5" rx="4.5" ry="2.5" class="w" stroke-width="1.3"/>
<polyline points="559,911.5 559,647.9 577.2,647.9" class="w" stroke-width="1.3"/>
<circle cx="577.2" cy="647.9" r="2.7" class="j"/>
<line x1="585.7" y1="608" x2="585.7" y2="650" class="w" stroke-width="1.1" stroke-dasharray="4 2"/>
<line x1="588.4" y1="608" x2="588.4" y2="650" class="w" stroke-width="1.1" stroke-dasharray="4 2"/>
<line x1="591.1" y1="608" x2="591.1" y2="650" class="w" stroke-width="1.1" stroke-dasharray="4 2"/>
<path d="M599.5,608 Q595,608 595,613 L595,644 Q595,649 599.5,649" class="w" stroke-width="1.3"/>
<ellipse cx="600" cy="614.5" rx="4.2" ry="2.5" class="w" stroke-width="1.3"/>
<ellipse cx="600" cy="621.5" rx="4.2" ry="2.5" class="w" stroke-width="1.3"/>
<ellipse cx="600" cy="628.5" rx="4.2" ry="2.5" class="w" stroke-width="1.3"/>
<ellipse cx="600" cy="635.5" rx="4.2" ry="2.5" class="w" stroke-width="1.3"/>
<ellipse cx="600" cy="642.5" rx="4.2" ry="2.5" class="w" stroke-width="1.3"/>
<polyline points="599.7,609.3 677.4,607.6" class="w" stroke-width="1.3"/>
<circle cx="624.3" cy="608.9" r="2.7" class="j"/>
<polyline points="599.7,647.9 652.2,647.9 652.2,586.8 677.4,585.7" class="w" stroke-width="1.3"/>
<circle cx="599.7" cy="647.9" r="2.7" class="j"/>
<circle cx="624.3" cy="647.9" r="2.7" class="j"/>
<line x1="624.3" y1="608.9" x2="624.3" y2="647.9" class="w" stroke-width="1.3"/>
<line x1="615.7" y1="626" x2="632.9" y2="626" class="w" stroke-width="2.4"/>
<line x1="615.7" y1="629" x2="632.9" y2="629" class="w" stroke-width="2.4"/>
<circle cx="635.5" cy="628.5" r="1" class="j"/>
<text x="570.7" y="602" font-size="14.9" class="t" textLength="15" lengthAdjust="spacingAndGlyphs">Kr.I</text>
<text x="601.8" y="602" font-size="14.9" class="t" textLength="10" lengthAdjust="spacingAndGlyphs">L6</text>
<text x="607.2" y="622" font-size="13.8" class="t" textLength="9" lengthAdjust="spacingAndGlyphs">C17</text>
<text x="609.3" y="642" font-size="14.9" class="t" textLength="12" lengthAdjust="spacingAndGlyphs">2%</text>
<text x="626.5" y="642" font-size="14.9" class="t" textLength="20" lengthAdjust="spacingAndGlyphs">47pF</text>
<circle cx="679.6" cy="585.7" r="2.4" class="o"/>
<circle cx="679.6" cy="607.6" r="2.4" class="o"/>
<circle cx="679.6" cy="629" r="2.4" class="o"/>
<text transform="translate(670,593) scale(0.72,1)" font-size="14.9" class="t">9</text>
<text transform="translate(672,606) scale(0.72,1)" font-size="14.9" class="t">8</text>
<text transform="translate(684,625) scale(0.72,1)" font-size="14.9" class="t">7</text>
<line x1="686.5" y1="586.5" x2="686.5" y2="606.8" class="w" stroke-width="3"/>
<text transform="translate(691,600) scale(0.72,1)" font-size="14.9" class="t">a</text>
<line x1="681.8" y1="629" x2="706.8" y2="629" class="w" stroke-width="1.3"/>
<circle cx="706.8" cy="629" r="2.7" class="j"/>
<circle cx="545" cy="676.2" r="2.4" class="o"/>
<circle cx="545" cy="697.6" r="2.4" class="o"/>
<circle cx="545" cy="725.5" r="2.4" class="o"/>
<line x1="538.6" y1="656.4" x2="538.6" y2="675.7" class="w" stroke-width="3"/>
<text transform="translate(532,670) scale(0.72,1)" font-size="14.9" class="t">c</text>
<text transform="translate(550,676) scale(0.72,1)" font-size="14.9" class="t">8</text>
<text transform="translate(550,698) scale(0.72,1)" font-size="14.9" class="t">7</text>
<text transform="translate(549,727) scale(0.72,1)" font-size="14.9" class="t">9</text>
<line x1="530.4" y1="697.2" x2="542.8" y2="697.6" class="w" stroke-width="1.3"/>
<line x1="519.7" y1="725.5" x2="542.8" y2="725.5" class="w" stroke-width="1.3"/>
<polyline points="547.2,676.2 577.2,676.8" class="w" stroke-width="1.3"/>
<path d="M577.8,675 Q582.5,675 582.5,680 L582.5,716 Q582.5,721 577.8,721" class="w" stroke-width="1.3"/>
<ellipse cx="577.3" cy="682" rx="4.5" ry="2.9" class="w" stroke-width="1.3"/>
<ellipse cx="577.3" cy="690" rx="4.5" ry="2.9" class="w" stroke-width="1.3"/>
<ellipse cx="577.3" cy="698" rx="4.5" ry="2.9" class="w" stroke-width="1.3"/>
<ellipse cx="577.3" cy="706" rx="4.5" ry="2.9" class="w" stroke-width="1.3"/>
<ellipse cx="577.3" cy="714" rx="4.5" ry="2.9" class="w" stroke-width="1.3"/>
<polyline points="559,719.7 577.2,719.7" class="w" stroke-width="1.3"/>
<circle cx="559" cy="719.7" r="2.7" class="j"/>
<circle cx="577.2" cy="719.7" r="2.7" class="j"/>
<line x1="585.7" y1="676" x2="585.7" y2="721" class="w" stroke-width="1.1" stroke-dasharray="4 2"/>
<line x1="588.4" y1="676" x2="588.4" y2="721" class="w" stroke-width="1.1" stroke-dasharray="4 2"/>
<line x1="591.1" y1="676" x2="591.1" y2="721" class="w" stroke-width="1.1" stroke-dasharray="4 2"/>
<path d="M599.5,675 Q595,675 595,680 L595,716 Q595,721 599.5,721" class="w" stroke-width="1.3"/>
<ellipse cx="600" cy="682" rx="4.2" ry="2.9" class="w" stroke-width="1.3"/>
<ellipse cx="600" cy="690" rx="4.2" ry="2.9" class="w" stroke-width="1.3"/>
<ellipse cx="600" cy="698" rx="4.2" ry="2.9" class="w" stroke-width="1.3"/>
<ellipse cx="600" cy="706" rx="4.2" ry="2.9" class="w" stroke-width="1.3"/>
<ellipse cx="600" cy="714" rx="4.2" ry="2.9" class="w" stroke-width="1.3"/>
<polyline points="599.7,676.8 677.4,676.2" class="w" stroke-width="1.3"/>
<circle cx="624.3" cy="676.2" r="2.7" class="j"/>
<polyline points="599.7,719.7 652.2,719.7 652.2,654.3 677.4,653.7" class="w" stroke-width="1.3"/>
<circle cx="599.7" cy="719.7" r="2.7" class="j"/>
<circle cx="624.3" cy="719.7" r="2.7" class="j"/>
<line x1="624.3" y1="676.2" x2="624.3" y2="719.7" class="w" stroke-width="1.3"/>
<line x1="615.7" y1="694.6" x2="632.9" y2="694.6" class="w" stroke-width="2.4"/>
<line x1="615.7" y1="698.2" x2="632.9" y2="698.2" class="w" stroke-width="2.4"/>
<text x="568.6" y="672" font-size="14.9" class="t" textLength="17" lengthAdjust="spacingAndGlyphs">Kr.II</text>
<text x="606.1" y="670" font-size="14.9" class="t" textLength="11" lengthAdjust="spacingAndGlyphs">L7</text>
<text x="632.9" y="690" font-size="14.9" class="t" textLength="15" lengthAdjust="spacingAndGlyphs">C20</text>
<text x="609.3" y="712" font-size="14.9" class="t" textLength="12" lengthAdjust="spacingAndGlyphs">2%</text>
<text x="625.4" y="712" font-size="14.9" class="t" textLength="22" lengthAdjust="spacingAndGlyphs">15pF</text>
<circle cx="679.6" cy="653.7" r="2.4" class="o"/>
<circle cx="679.6" cy="676.2" r="2.4" class="o"/>
<circle cx="679.6" cy="697.6" r="2.4" class="o"/>
<text transform="translate(671,650) scale(0.72,1)" font-size="14.9" class="t">9</text>
<text transform="translate(671,679) scale(0.72,1)" font-size="14.9" class="t">8</text>
<text transform="translate(672,700) scale(0.72,1)" font-size="14.9" class="t">7</text>
<line x1="686.5" y1="654.6" x2="686.5" y2="675.7" class="w" stroke-width="3"/>
<text transform="translate(692,665) scale(0.72,1)" font-size="14.9" class="t">d</text>
<line x1="681.8" y1="697.6" x2="706.8" y2="697.6" class="w" stroke-width="1.3"/>
<circle cx="706.8" cy="697.6" r="2.7" class="j"/>
<circle cx="679.6" cy="725.5" r="2.4" class="o"/>
<text transform="translate(671,722) scale(0.72,1)" font-size="14.9" class="t">9</text>
<polyline points="677.4,726.1 651.1,726.1 651.1,789.2" class="w" stroke-width="1.3"/>
<circle cx="544.4" cy="747.6" r="2.4" class="o"/>
<circle cx="544.4" cy="769.9" r="2.4" class="o"/>
<text transform="translate(550,743) scale(0.72,1)" font-size="14.9" class="t">8</text>
<text transform="translate(551,764) scale(0.72,1)" font-size="14.9" class="t">7</text>
<line x1="538.6" y1="749" x2="538.6" y2="769.4" class="w" stroke-width="3"/>
<path d="M532,768 l4,-12" class="w" stroke-width="1.2"/>
<line x1="530" y1="769.9" x2="542.2" y2="769.9" class="w" stroke-width="1.3"/>
<polyline points="546.6,747.6 577.2,749" class="w" stroke-width="1.3"/>
<path d="M577.8,748 Q582.5,748 582.5,753 L582.5,786 Q582.5,791 577.8,791" class="w" stroke-width="1.3"/>
<ellipse cx="577.3" cy="754.7" rx="4.5" ry="2.7" class="w" stroke-width="1.3"/>
<ellipse cx="577.3" cy="762.1" rx="4.5" ry="2.7" class="w" stroke-width="1.3"/>
<ellipse cx="577.3" cy="769.5" rx="4.5" ry="2.7" class="w" stroke-width="1.3"/>
<ellipse cx="577.3" cy="776.9" rx="4.5" ry="2.7" class="w" stroke-width="1.3"/>
<ellipse cx="577.3" cy="784.3" rx="4.5" ry="2.7" class="w" stroke-width="1.3"/>
<polyline points="559,789.2 577.2,789.2" class="w" stroke-width="1.3"/>
<circle cx="559" cy="789.2" r="2.7" class="j"/>
<circle cx="577.2" cy="789.2" r="2.7" class="j"/>
<line x1="585.7" y1="748" x2="585.7" y2="792" class="w" stroke-width="1.1" stroke-dasharray="4 2"/>
<line x1="588.4" y1="748" x2="588.4" y2="792" class="w" stroke-width="1.1" stroke-dasharray="4 2"/>
<line x1="591.1" y1="748" x2="591.1" y2="792" class="w" stroke-width="1.1" stroke-dasharray="4 2"/>
<path d="M599.5,748 Q595,748 595,753 L595,786 Q595,791 599.5,791" class="w" stroke-width="1.3"/>
<ellipse cx="600" cy="754.7" rx="4.2" ry="2.7" class="w" stroke-width="1.3"/>
<ellipse cx="600" cy="762.1" rx="4.2" ry="2.7" class="w" stroke-width="1.3"/>
<ellipse cx="600" cy="769.5" rx="4.2" ry="2.7" class="w" stroke-width="1.3"/>
<ellipse cx="600" cy="776.9" rx="4.2" ry="2.7" class="w" stroke-width="1.3"/>
<ellipse cx="600" cy="784.3" rx="4.2" ry="2.7" class="w" stroke-width="1.3"/>
<polyline points="599.7,749 677.4,747.6" class="w" stroke-width="1.3"/>
<polyline points="599.7,789.2 664,789.2" class="w" stroke-width="1.3"/>
<circle cx="599.7" cy="789.2" r="2.7" class="j"/>
<circle cx="651.1" cy="789.2" r="2.7" class="j"/>
<line x1="664" y1="781.2" x2="664" y2="797.2" class="w" stroke-width="2.4"/>
<line x1="667.2" y1="781.2" x2="667.2" y2="797.2" class="w" stroke-width="2.4"/>
<line x1="654" y1="797" x2="672" y2="781" class="w" stroke-width="1.1"/>
<polyline points="667.2,789.2 706.8,789.2" class="w" stroke-width="1.3"/>
<circle cx="706.8" cy="789.2" r="2.7" class="j"/>
<text x="567.5" y="741" font-size="14.9" class="t" textLength="11" lengthAdjust="spacingAndGlyphs">Śr.</text>
<text x="606.1" y="741" font-size="14.9" class="t" textLength="10" lengthAdjust="spacingAndGlyphs">L8</text>
<text x="654.3" y="775" font-size="14.9" class="t" textLength="14" lengthAdjust="spacingAndGlyphs">C21</text>
<circle cx="679.6" cy="747.6" r="2.4" class="o"/>
<circle cx="679.6" cy="769.9" r="2.4" class="o"/>
<text transform="translate(671,741) scale(0.72,1)" font-size="14.9" class="t">8</text>
<text transform="translate(671,762) scale(0.72,1)" font-size="14.9" class="t">7</text>
<line x1="686.5" y1="749" x2="686.5" y2="768.5" class="w" stroke-width="3"/>
<text transform="translate(691.8,761) scale(0.72,1)" font-size="14.9" class="t">e</text>
<line x1="681.8" y1="769.9" x2="706.8" y2="769.9" class="w" stroke-width="1.3"/>
<circle cx="706.8" cy="769.9" r="2.7" class="j"/>
<circle cx="544.4" cy="813.4" r="2.4" class="o"/>
<circle cx="544.4" cy="835.5" r="2.4" class="o"/>
<circle cx="544.4" cy="857.7" r="2.4" class="o"/>
<text transform="translate(549,808) scale(0.72,1)" font-size="14.9" class="t">9</text>
<text transform="translate(549,831) scale(0.72,1)" font-size="14.9" class="t">8</text>
<text transform="translate(549,853) scale(0.72,1)" font-size="14.9" class="t">7</text>
<line x1="538.6" y1="816.6" x2="538.6" y2="834.8" class="w" stroke-width="3"/>
<text transform="translate(531,829) scale(0.72,1)" font-size="14.9" class="t">g</text>
<line x1="519.3" y1="814" x2="542.2" y2="813.4" class="w" stroke-width="1.3"/>
<polyline points="546.6,835.5 577.2,835.5" class="w" stroke-width="1.3"/>
<path d="M577.8,834 Q582.5,834 582.5,839 L582.5,864 Q582.5,869 577.8,869" class="w" stroke-width="1.3"/>
<ellipse cx="577.3" cy="840.6" rx="4.5" ry="2.6" class="w" stroke-width="1.3"/>
<ellipse cx="577.3" cy="847.9" rx="4.5" ry="2.6" class="w" stroke-width="1.3"/>
<ellipse cx="577.3" cy="855.1" rx="4.5" ry="2.6" class="w" stroke-width="1.3"/>
<ellipse cx="577.3" cy="862.4" rx="4.5" ry="2.6" class="w" stroke-width="1.3"/>
<polyline points="577.2,866 577.2,890.5" class="w" stroke-width="1.3"/>
<circle cx="577.2" cy="890.5" r="2.7" class="j"/>
<line x1="585.7" y1="835" x2="585.7" y2="868" class="w" stroke-width="1.1" stroke-dasharray="4 2"/>
<line x1="588.4" y1="835" x2="588.4" y2="868" class="w" stroke-width="1.1" stroke-dasharray="4 2"/>
<line x1="591.1" y1="835" x2="591.1" y2="868" class="w" stroke-width="1.1" stroke-dasharray="4 2"/>
<path d="M599.5,834 Q595,834 595,839 L595,864 Q595,869 599.5,869" class="w" stroke-width="1.3"/>
<ellipse cx="600" cy="840.6" rx="4.2" ry="2.6" class="w" stroke-width="1.3"/>
<ellipse cx="600" cy="847.9" rx="4.2" ry="2.6" class="w" stroke-width="1.3"/>
<ellipse cx="600" cy="855.1" rx="4.2" ry="2.6" class="w" stroke-width="1.3"/>
<ellipse cx="600" cy="862.4" rx="4.2" ry="2.6" class="w" stroke-width="1.3"/>
<polyline points="599.7,835.5 677.4,835.5" class="w" stroke-width="1.3"/>
<circle cx="623.9" cy="835.5" r="2.7" class="j"/>
<line x1="599.7" y1="866" x2="599.7" y2="890.5" class="w" stroke-width="1.3"/>
<line x1="591.1" y1="880.5" x2="608.3" y2="880.5" class="w" stroke-width="2.4"/>
<line x1="591.1" y1="883.7" x2="608.3" y2="883.7" class="w" stroke-width="2.4"/>
<circle cx="599.7" cy="890.5" r="2.7" class="j"/>
<polyline points="559,890.1 651.1,890.1 651.1,813.4 677.4,813.4" class="w" stroke-width="1.3"/>
<circle cx="559" cy="890.1" r="2.7" class="j"/>
<line x1="623.9" y1="835.5" x2="623.9" y2="890.1" class="w" stroke-width="1.3"/>
<line x1="615.3" y1="853" x2="632.5" y2="853" class="w" stroke-width="2.4"/>
<line x1="615.3" y1="856.9" x2="632.5" y2="856.9" class="w" stroke-width="2.4"/>
<circle cx="623.9" cy="890.1" r="2.7" class="j"/>
<text x="567" y="831" font-size="14.9" class="t" textLength="11" lengthAdjust="spacingAndGlyphs">Dł.</text>
<text x="601" y="829" font-size="14.9" class="t" textLength="11" lengthAdjust="spacingAndGlyphs">L9</text>
<text x="604" y="877" font-size="14.9" class="t" textLength="14" lengthAdjust="spacingAndGlyphs">C19</text>
<text x="580.4" y="905" font-size="14.9" class="t" textLength="42" lengthAdjust="spacingAndGlyphs">300pF 2%</text>
<text x="631.8" y="849" font-size="14.9" class="t" textLength="16" lengthAdjust="spacingAndGlyphs">C23</text>
<text x="626.5" y="869" font-size="14.9" class="t" textLength="22" lengthAdjust="spacingAndGlyphs">100pF</text>
<text x="627.5" y="884" font-size="14.9" class="t" textLength="13" lengthAdjust="spacingAndGlyphs">2%</text>
<circle cx="679.6" cy="813.4" r="2.4" class="o"/>
<circle cx="679.6" cy="835.5" r="2.4" class="o"/>
<circle cx="679.6" cy="857.3" r="2.4" class="o"/>
<text transform="translate(671,808) scale(0.72,1)" font-size="14.9" class="t">9</text>
<text transform="translate(671,831) scale(0.72,1)" font-size="14.9" class="t">8</text>
<text transform="translate(670,852) scale(0.72,1)" font-size="14.9" class="t">7</text>
<line x1="686.5" y1="815" x2="686.5" y2="834" class="w" stroke-width="3"/>
<text transform="translate(691.5,827) scale(0.72,1)" font-size="14.9" class="t">h</text>
<line x1="681.8" y1="857.3" x2="705.8" y2="857.3" class="w" stroke-width="1.3"/>
<circle cx="705.8" cy="857.3" r="2.7" class="j"/>
<line x1="698.3" y1="869.1" x2="714.3" y2="869.1" class="w" stroke-width="2.4"/>
<line x1="698.3" y1="872.7" x2="714.3" y2="872.7" class="w" stroke-width="2.4"/>
<line x1="698.3" y1="894.2" x2="714.3" y2="894.2" class="w" stroke-width="2.4"/>
<line x1="698.3" y1="898" x2="714.3" y2="898" class="w" stroke-width="2.4"/>
<text x="710" y="865" font-size="14.9" class="t" textLength="15" lengthAdjust="spacingAndGlyphs">C26</text>
<text x="683.3" y="871" font-size="14.9" class="t" textLength="13" lengthAdjust="spacingAndGlyphs">2%</text>
<text x="675.8" y="886" font-size="14.9" class="t" textLength="27" lengthAdjust="spacingAndGlyphs">360pF</text>
<text x="718.6" y="897" font-size="14.9" class="t" textLength="16" lengthAdjust="spacingAndGlyphs">C27</text>
<path d="M717,879.5 l-5,2.5 l3.5,2.5 z" class="w" stroke-width="0.8" style="fill:#000"/>
<polyline points="519.3,910.9 1062.7,911.1" class="w" stroke-width="1.3"/>
<circle cx="557.5" cy="911.5" r="2.7" class="j"/>
<circle cx="705.8" cy="911.5" r="2.7" class="j"/>
<circle cx="824.6" cy="594.3" r="2.4" class="o"/>
<text x="814" y="598" font-size="14.9" class="t" textLength="7" lengthAdjust="spacingAndGlyphs">11</text>
<polyline points="824.6,596.5 824.6,786.4 797.8,786.4 797.8,763.6" class="w" stroke-width="1.3"/>
<circle cx="840.7" cy="594.3" r="2.4" class="o"/>
<text transform="translate(832,598) scale(0.72,1)" font-size="14.9" class="t">9</text>
<circle cx="877.4" cy="594.3" r="2.4" class="o"/>
<text x="863" y="598" font-size="14.9" class="t" textLength="10" lengthAdjust="spacingAndGlyphs">10</text>
<polyline points="877.2,596.5 876.8,621.1 748.2,621.1 748.2,728.8 762,728.8" class="w" stroke-width="1.3"/>
<circle cx="876.8" cy="566.6" r="2.7" class="j"/>
<circle cx="921" cy="594.3" r="2.4" class="o"/>
<text x="907" y="598" font-size="14.9" class="t" textLength="10" lengthAdjust="spacingAndGlyphs">17</text>
<polyline points="921,596.5 921,703.3 980.8,704.7 980.8,804.3 972,805.3" class="w" stroke-width="1.3"/>
<circle cx="1063.5" cy="594.3" r="2.4" class="o"/>
<text x="1048" y="598" font-size="14.9" class="t" textLength="12" lengthAdjust="spacingAndGlyphs">12</text>
<circle cx="706.7" cy="594.3" r="2.4" class="o"/>
<circle cx="706.7" cy="629.1" r="2.7" class="j"/>
<circle cx="706.7" cy="698" r="2.7" class="j"/>
<circle cx="706.8" cy="770.3" r="2.7" class="j"/>
<circle cx="706.8" cy="789.1" r="2.7" class="j"/>
<polyline points="734.8,635.8 795.6,635.8 795.6,704.7" class="w" stroke-width="1.3"/>
<circle cx="776.4" cy="635.8" r="2.7" class="j"/>
<line x1="776.4" y1="635.8" x2="776.4" y2="649.8" class="w" stroke-width="1.3"/>
<rect x="771.4" y="649.8" width="10" height="32.1" class="r" stroke-width="2.4"/>
<line x1="771" y1="671" x2="781.7" y2="671" class="w" stroke-width="1.2"/>
<line x1="776.4" y1="681.9" x2="776.4" y2="716.7" class="w" stroke-width="1.3"/>
<text x="749.6" y="673" font-size="13.8" class="t" textLength="21" lengthAdjust="spacingAndGlyphs">470kΩ</text>
<text x="797.8" y="682" font-size="14.9" class="g" textLength="25" lengthAdjust="spacingAndGlyphs">EM80</text>
<path d="M761.6,716.7 A24.1,24.1 0 0 1 809.8,716.7 L809.8,739.5 A24.1,24.1 0 0 1 761.6,739.5 Z" class="w" stroke-width="2.8"/>
<path d="M768.6,754.6 Q785.7,744.6 802.8,754.6" class="w" stroke-width="2.6"/>
<path d="M772.6,757.6 Q785.7,749.6 798.8,757.6" class="w" stroke-width="1.1"/>
<line x1="769" y1="716.7" x2="783" y2="716.7" class="w" stroke-width="2.2"/>
<circle cx="791.1" cy="716.2" r="1.6" class="o"/>
<circle cx="800.5" cy="716.2" r="1.6" class="o"/>
<line x1="789" y1="704" x2="805" y2="710" class="w" stroke-width="2.2"/>
<line x1="764" y1="728.2" x2="807" y2="728.2" class="w" stroke-width="1.1" stroke-dasharray="5 2 1.5 2"/>
<polyline points="762,754.2 760.8,754.2 760.8,911.1" class="w" stroke-width="1.3"/>
<circle cx="760.8" cy="799.7" r="2.7" class="j"/>
<polyline points="760.8,799.7 774.1,799.7 774.1,762" class="w" stroke-width="1.3"/>
<circle cx="840.7" cy="728.2" r="2.4" class="o"/>
<circle cx="840.7" cy="750.8" r="2.4" class="o"/>
<circle cx="840.7" cy="771.7" r="2.4" class="o"/>
<text transform="translate(845,727) scale(0.72,1)" font-size="14.9" class="t">9</text>
<text transform="translate(831,752) scale(0.72,1)" font-size="14.9" class="t">8</text>
<text transform="translate(833,772) scale(0.72,1)" font-size="14.9" class="t">7</text>
<line x1="846.8" y1="728.2" x2="846.8" y2="747.5" class="w" stroke-width="3"/>
<text transform="translate(849,741) scale(0.72,1)" font-size="14.9" class="t">l</text>
<line x1="840.5" y1="726" x2="840.7" y2="726" class="w" stroke-width="1.3"/>
<polyline points="842.9,750.8 873.6,750.8" class="w" stroke-width="1.3"/>
<polyline points="842.9,771.7 857.3,771.7 857.3,648.4 1008,648.4 1008,660.5" class="w" stroke-width="1.3"/>
<line x1="840.8" y1="773.9" x2="840.8" y2="812.7" class="w" stroke-width="1.3"/>
<line x1="840.8" y1="867.6" x2="840.8" y2="911.1" class="w" stroke-width="1.3"/>
<path d="M835,819.5 A6,6.5 0 0 1 847,819.5" class="w" stroke-width="1.6"/>
<path d="M835,861 A6,6.5 0 0 0 847,861" class="w" stroke-width="1.6"/>
<text transform="translate(845.6,861.5) rotate(-90)" font-size="13.8" class="t" textLength="38" lengthAdjust="spacingAndGlyphs">Adapter</text>
<polyline points="873.6,773 873.6,676.5 939.2,676.5" class="w" stroke-width="1.3"/>
<rect x="939.2" y="671.9" width="34.1" height="9.8" class="r" stroke-width="2.4"/>
<line x1="964.6" y1="672" x2="964.6" y2="681.6" class="w" stroke-width="1.2"/>
<polyline points="973.3,676.5 994.7,676.5" class="w" stroke-width="1.3"/>
<circle cx="994.7" cy="676.5" r="2.7" class="j"/>
<text x="931.7" y="665" font-size="14.9" class="t" textLength="15" lengthAdjust="spacingAndGlyphs">R16</text>
<text x="951.8" y="663" font-size="14.9" class="t" textLength="21" lengthAdjust="spacingAndGlyphs">2MΩ</text>
<circle cx="873.6" cy="728.2" r="2.7" class="j"/>
<circle cx="873.6" cy="750.8" r="2.7" class="j"/>
<polyline points="873.6,728.2 888.3,728.2" class="w" stroke-width="1.3"/>
<rect x="888.3" y="724" width="32.7" height="9.6" class="r" stroke-width="2.4"/>
<polyline points="921,728.2 934.4,728.2 934.4,773 906.3,773" class="w" stroke-width="1.3"/>
<text x="882.2" y="717" font-size="14.9" class="t" textLength="16" lengthAdjust="spacingAndGlyphs">R17</text>
<text x="902.3" y="716" font-size="14.9" class="t" textLength="27" lengthAdjust="spacingAndGlyphs">4,7MΩ</text>
<polyline points="903.6,735.5 903.6,750.8 945.1,750.8" class="w" stroke-width="1.3"/>
<circle cx="934.4" cy="750.8" r="2.7" class="j"/>
<path d="M903.6,733.6 l-1.5,4 l3,0 z" class="w" stroke-width="1" style="fill:#000"/>
<line x1="902.8" y1="764.5" x2="902.8" y2="781.5" class="w" stroke-width="2.4"/>
<line x1="906.3" y1="764.5" x2="906.3" y2="781.5" class="w" stroke-width="2.4"/>
<line x1="873.6" y1="773" x2="902.8" y2="773" class="w" stroke-width="1.3"/>
<text x="886" y="765" font-size="14.9" class="t" textLength="13" lengthAdjust="spacingAndGlyphs">C33</text>
<text x="908" y="784" font-size="14.9" class="t" textLength="27" lengthAdjust="spacingAndGlyphs">300pF</text>
<line x1="945.1" y1="742.8" x2="945.1" y2="758.8" class="w" stroke-width="2.4"/>
<line x1="949.2" y1="742.8" x2="949.2" y2="758.8" class="w" stroke-width="2.4"/>
<polyline points="949.2,750.8 959.3,750.8 959.3,787.1" class="w" stroke-width="1.3"/>
<text x="941.1" y="738" font-size="14.9" class="t" textLength="31" lengthAdjust="spacingAndGlyphs">0,01µF</text>
<text x="961.2" y="756" font-size="14.9" class="t" textLength="15" lengthAdjust="spacingAndGlyphs">C34</text>
<rect x="953.6" y="787.1" width="11" height="31.8" class="r" stroke-width="2.4"/>
<text x="942.7" y="783" font-size="14.9" class="t" textLength="14" lengthAdjust="spacingAndGlyphs">R20</text>
<text x="966.7" y="818" font-size="14.9" class="t" textLength="19" lengthAdjust="spacingAndGlyphs">1MΩ</text>
<path d="M973,805.3 l4,-2 l0,4 z" class="w" stroke-width="1" style="fill:#000"/>
<circle cx="952" cy="805.5" r="2.7" class="j"/>
<polyline points="940,805.5 952,805.5" class="w" stroke-width="1.3"/>
<rect x="908" y="800.5" width="32" height="10.4" class="r" stroke-width="2.4"/>
<line x1="932" y1="801" x2="932" y2="810.5" class="w" stroke-width="1.2"/>
<polyline points="908,805.5 885.3,805.5 885.3,817.8" class="w" stroke-width="1.3"/>
<line x1="876.9" y1="817.8" x2="893.7" y2="817.8" class="w" stroke-width="2.4"/>
<line x1="876.9" y1="821" x2="893.7" y2="821" class="w" stroke-width="2.4"/>
<polyline points="885.3,821 885.3,833 1098.2,833" class="w" stroke-width="1.3"/>
<circle cx="959.5" cy="833" r="2.7" class="j"/>
<text x="892" y="799" font-size="14.9" class="t" textLength="13" lengthAdjust="spacingAndGlyphs">R18</text>
<text x="913.3" y="823" font-size="14.9" class="t" textLength="23" lengthAdjust="spacingAndGlyphs">47kΩ</text>
<text x="868.5" y="812" font-size="14.9" class="t" textLength="14" lengthAdjust="spacingAndGlyphs">C32</text>
<text x="853.3" y="836" font-size="14.9" class="t" textLength="31" lengthAdjust="spacingAndGlyphs">0,01µF</text>
<line x1="959.5" y1="818.9" x2="959.5" y2="911.1" class="w" stroke-width="1.3"/>
<rect x="954" y="846.3" width="11" height="32.8" class="r" stroke-width="2.4"/>
<line x1="954" y1="872" x2="965" y2="872" class="w" stroke-width="1.2"/>
<text x="934.7" y="856" font-size="14.9" class="t" textLength="15" lengthAdjust="spacingAndGlyphs">R19</text>
<text x="928" y="874" font-size="14.9" class="t" textLength="19" lengthAdjust="spacingAndGlyphs">22Ω</text>
<circle cx="760.8" cy="911.1" r="2.7" class="j"/>
<circle cx="840.8" cy="911.1" r="2.7" class="j"/>
<circle cx="959.5" cy="911.1" r="2.7" class="j"/>
<circle cx="1022.1" cy="911.1" r="2.7" class="j"/>
<circle cx="1022.3" cy="661.8" r="21.4" class="w" stroke-width="1.5"/>
<circle cx="1008" cy="662.6" r="2" class="o"/>
<circle cx="1022.8" cy="648.4" r="2" class="o"/>
<circle cx="1036.2" cy="662.6" r="2" class="o"/>
<polyline points="994.7,676.5 994.7,671.2 1035,671.2 1036.2,664.8" class="w" stroke-width="1.3"/>
<polyline points="1022.8,594.3 1022.8,646.2" class="w" stroke-width="1.3"/>
<line x1="1022.8" y1="676" x2="1022.8" y2="911.1" class="w" stroke-width="1.3"/>
<path d="M1016,681.5 L1016,677 L1030,677 L1030,681.5" class="w" stroke-width="1.4"/>
<circle cx="1022.3" cy="750.8" r="2.7" class="j"/>
<polyline points="994.7,676.5 994.7,704.1" class="w" stroke-width="1.3"/>
<rect x="989.7" y="704.1" width="10" height="32.7" class="r" stroke-width="2.4"/>
<line x1="990" y1="731" x2="1000" y2="731" class="w" stroke-width="1.2"/>
<polyline points="994.7,736.8 994.7,750.8 1022.3,750.8" class="w" stroke-width="1.3"/>
<text x="978.6" y="697" font-size="14.9" class="t" textLength="15" lengthAdjust="spacingAndGlyphs">R15</text>
<text x="1001.4" y="721" font-size="13.8" class="t" textLength="20" lengthAdjust="spacingAndGlyphs">0,1MΩ</text>
<line x1="1063.4" y1="596.5" x2="1063.4" y2="911.1" class="w" stroke-width="1.3"/>
<rect x="1058.4" y="690.7" width="10" height="32.2" class="r" stroke-width="2.4"/>
<polyline points="1068,706.8 1085.8,706.8 1085.8,745.4 1063,745.4" class="w" stroke-width="1.3"/>
<circle cx="1063" cy="745.8" r="2.7" class="j"/>
<circle cx="1076.4" cy="706.8" r="2.7" class="j"/>
<text x="1039" y="697" font-size="14.9" class="t" textLength="16" lengthAdjust="spacingAndGlyphs">R26</text>
<text x="1033.6" y="716" font-size="14.9" class="t" textLength="20" lengthAdjust="spacingAndGlyphs">1MΩ</text>
<circle cx="1159.3" cy="594.3" r="2.4" class="o"/>
<circle cx="1172.6" cy="594.3" r="2.4" class="o"/>
<circle cx="1186.2" cy="594.3" r="2.4" class="o"/>
<text x="1145" y="598" font-size="14.9" class="t" textLength="9" lengthAdjust="spacingAndGlyphs">19</text>
<text x="1162" y="598" font-size="14.9" class="t" textLength="8" lengthAdjust="spacingAndGlyphs">13</text>
<text x="1175" y="598" font-size="14.9" class="t" textLength="10" lengthAdjust="spacingAndGlyphs">20</text>
<line x1="1159.3" y1="596.5" x2="1159.3" y2="621.7" class="w" stroke-width="1.3"/>
<circle cx="1159.3" cy="621.7" r="2.7" class="j"/>
<line x1="1186.2" y1="596.5" x2="1186.2" y2="704.2" class="w" stroke-width="1.3"/>
<polyline points="1200.7,540.3 1200.7,635.4 1256.4,635.4 1256.4,718.2" class="w" stroke-width="1.3"/>
<polyline points="1213.3,621.7 1282.7,622.4 1282.7,912.2" class="w" stroke-width="1.3"/>
<circle cx="1117.8" cy="620.2" r="2.4" class="o"/>
<circle cx="1117.8" cy="643.2" r="2.4" class="o"/>
<circle cx="1117.8" cy="665.6" r="2.4" class="o"/>
<text transform="translate(1109,617) scale(0.72,1)" font-size="13.8" class="t">3</text>
<text transform="translate(1108,647) scale(0.72,1)" font-size="13.8" class="t">2</text>
<text transform="translate(1109,668) scale(0.72,1)" font-size="13.8" class="t">1</text>
<line x1="1124" y1="620.2" x2="1124" y2="641.2" class="w" stroke-width="3"/>
<text transform="translate(1127,630) scale(0.72,1)" font-size="13.8" class="t">l</text>
<polyline points="1120,643.2 1134.6,643.2 1134.6,622.4 1178,622.4 1178,663.6" class="w" stroke-width="1.3"/>
<polyline points="1166.8,635.6 1140.2,635.6 1140.2,690.2 1166.8,690.2" class="w" stroke-width="1.3"/>
<circle cx="1153.6" cy="690.2" r="2.7" class="j"/>
<line x1="1131.8" y1="659.4" x2="1148.6" y2="659.4" class="w" stroke-width="2.4"/>
<line x1="1131.8" y1="664.2" x2="1148.6" y2="664.2" class="w" stroke-width="2.4"/>
<path d="M1167.5,638 Q1163,638 1163,643 L1163,678 Q1163,683 1167.5,683" class="w" stroke-width="1.3"/>
<ellipse cx="1168" cy="644.9" rx="4.2" ry="2.8" class="w" stroke-width="1.3"/>
<ellipse cx="1168" cy="652.7" rx="4.2" ry="2.8" class="w" stroke-width="1.3"/>
<ellipse cx="1168" cy="660.5" rx="4.2" ry="2.8" class="w" stroke-width="1.3"/>
<ellipse cx="1168" cy="668.3" rx="4.2" ry="2.8" class="w" stroke-width="1.3"/>
<ellipse cx="1168" cy="676.1" rx="4.2" ry="2.8" class="w" stroke-width="1.3"/>
<polyline points="1117.8,667.8 1117.8,704.2 1186.2,704.2" class="w" stroke-width="1.3"/>
<circle cx="1153.6" cy="704.2" r="2.7" class="j"/>
<line x1="1153.6" y1="690.2" x2="1153.6" y2="704.2" class="w" stroke-width="1.3"/>
<text x="1120.6" y="656" font-size="13.8" class="t" textLength="14" lengthAdjust="spacingAndGlyphs">C42</text>
<text x="1120.6" y="679" font-size="13.8" class="t" textLength="40" lengthAdjust="spacingAndGlyphs">0,02µF±10%</text>
<text x="1171" y="686" font-size="13.8" class="t" textLength="14" lengthAdjust="spacingAndGlyphs">L16</text>
<text x="1257.8" y="708" font-size="14.9" class="t" textLength="16" lengthAdjust="spacingAndGlyphs">Tr1</text>
<rect x="1243.8" y="718.2" width="7.6" height="121.8" fill="#000"/>
<rect x="1243.8" y="851.2" width="7.6" height="61.6" fill="#000"/>
<rect x="1259.8" y="718.2" width="7.8" height="144.2" fill="#000"/>
<rect x="1259.8" y="871.4" width="7.8" height="41.4" fill="#000"/>
<line x1="1255.8" y1="718" x2="1255.8" y2="912.8" class="w" stroke-width="1.1"/>
<text transform="translate(1237,729) scale(0.72,1)" font-size="13.8" class="t">1</text>
<text transform="translate(1235,752) scale(0.72,1)" font-size="13.8" class="t">2</text>
<text transform="translate(1236,838) scale(0.72,1)" font-size="13.8" class="t">3</text>
<text transform="translate(1235,863) scale(0.72,1)" font-size="13.8" class="t">4</text>
<text transform="translate(1235,906) scale(0.72,1)" font-size="13.8" class="t">5</text>
<text transform="translate(1270,729) scale(0.72,1)" font-size="13.8" class="t">6</text>
<text transform="translate(1270,859) scale(0.72,1)" font-size="13.8" class="t">7</text>
<text transform="translate(1270,884) scale(0.72,1)" font-size="13.8" class="t">8</text>
<text transform="translate(1270,906) scale(0.72,1)" font-size="13.8" class="t">9</text>
<polyline points="1200.4,718.2 1243.8,718.2" class="w" stroke-width="1.3"/>
<polyline points="1186.8,766.6 1186.8,740.6 1243.8,740.6" class="w" stroke-width="1.3"/>
<circle cx="1211" cy="740.6" r="2.7" class="j"/>
<line x1="1211.5" y1="740.6" x2="1211.5" y2="767.3" class="w" stroke-width="1.3"/>
<line x1="1212.3" y1="805.5" x2="1211" y2="912.2" class="w" stroke-width="1.3"/>
<circle cx="1199.5" cy="786.8" r="27" class="w" stroke-width="1.8"/>
<path d="M1180.5,781 Q1196,781 1200,766" class="w" stroke-width="1.8"/>
<path d="M1212.5,771.5 Q1214,777 1219,780" class="w" stroke-width="1.8"/>
<path d="M1181.5,795 Q1195,795 1199,806" class="w" stroke-width="1.8"/>
<path d="M1216.5,758 A33,33 0 0 1 1232.5,790.5" class="w" stroke-width="1.3"/>
<path d="M1216.5,758 l6.5,1 l-3,4.5 z" class="w" stroke-width="0.8" style="fill:#000"/>
<line x1="1175" y1="788.3" x2="1191.3" y2="788.3" class="w" stroke-width="1.3"/>
<path d="M1173.5,788.3 l5,-2 l0,4 z" class="w" stroke-width="0.8" style="fill:#000"/>
<line x1="1214.5" y1="798" x2="1226" y2="809" class="w" stroke-width="1.8"/>
<path d="M1228,811 l-5.5,-1.5 l3.5,-3.5 z" class="w" stroke-width="0.8" style="fill:#000"/>
<text x="1187" y="786" font-size="7" class="g" textLength="12" lengthAdjust="spacingAndGlyphs">200</text>
<text transform="translate(1208,781) rotate(-65)" font-size="7" class="g" textLength="10" lengthAdjust="spacingAndGlyphs">120</text>
<text transform="translate(1201,791) rotate(60)" font-size="7" class="g" textLength="10" lengthAdjust="spacingAndGlyphs">220</text>
<polyline points="1200.4,718.2 1200.4,762.1" class="w" stroke-width="1.3"/>
<polyline points="1219,794.3 1231,794.3 1231,850.5" class="w" stroke-width="1.3"/>
<circle cx="1230.4" cy="850.5" r="2.7" class="j"/>
<polyline points="1180,796.5 1180,850.5 1243.8,850.5" class="w" stroke-width="1.3"/>
<polyline points="1199.5,810 1199.5,840.8 1243.8,840.8" class="w" stroke-width="1.3"/>
<polyline points="1178.8,781.5 1158.4,781.5 1158.4,813.4" class="w" stroke-width="1.3"/>
<circle cx="1186.8" cy="768.8" r="1.5" class="o"/>
<circle cx="1200.3" cy="764.3" r="1.5" class="o"/>
<circle cx="1211.5" cy="769.5" r="1.5" class="o"/>
<circle cx="1220.2" cy="781.5" r="1.5" class="o"/>
<circle cx="1178.8" cy="781.5" r="1.5" class="o"/>
<circle cx="1180" cy="794.3" r="1.5" class="o"/>
<circle cx="1199.5" cy="807.8" r="1.5" class="o"/>
<circle cx="1212.3" cy="803.3" r="1.5" class="o"/>
<circle cx="1219" cy="794.3" r="1.5" class="o"/>
<rect x="1153.4" y="813.4" width="10" height="26.6" rx="5" class="r" stroke-width="1.4"/>
<polyline points="1158.4,840 1158.4,871.4 1141.6,871.4" class="w" stroke-width="1.3"/>
<circle cx="1089.8" cy="871.4" r="2.4" class="o"/>
<circle cx="1117.8" cy="871.4" r="2.4" class="o"/>
<circle cx="1139.4" cy="871.4" r="2.4" class="o"/>
<line x1="1092" y1="871.4" x2="1115.6" y2="871.4" class="w" stroke-width="1.3"/>
<line x1="1119.5" y1="870.5" x2="1137.4" y2="861" class="w" stroke-width="1.6"/>
<circle cx="1089.8" cy="912.2" r="2.4" class="o"/>
<circle cx="1117.8" cy="912.2" r="2.4" class="o"/>
<circle cx="1139.4" cy="912.2" r="2.4" class="o"/>
<line x1="1092" y1="912.2" x2="1115.6" y2="912.2" class="w" stroke-width="1.3"/>
<line x1="1119.5" y1="911.3" x2="1137.4" y2="901" class="w" stroke-width="1.6"/>
<polyline points="1141.6,912.2 1243.8,912.2" class="w" stroke-width="1.3"/>
<circle cx="1211" cy="912.2" r="2.7" class="j"/>
<text x="1088.4" y="887" font-size="14.9" class="g" textLength="24" lengthAdjust="spacingAndGlyphs">220V</text>
<text x="1089.8" y="902" font-size="14.9" class="g" textLength="24" lengthAdjust="spacingAndGlyphs">50Hz</text>
<polyline points="1267.6,719 1350.2,719 1350.2,735" class="w" stroke-width="1.3"/>
<polyline points="1267.6,862.4 1350.2,862.4 1350.2,845" class="w" stroke-width="1.3"/>
<path d="M1350.2,735 L1404.2,789.6 L1350.2,845 L1296.2,790.2 Z" class="w" stroke-width="1.4"/>
<g transform="translate(1327.6,758.4) rotate(-45)"><path d="M-12,-7.3 L-12,7.3 L0,0 Z" fill="#000"/><line x1="0" y1="-8" x2="0" y2="8" stroke="#000" stroke-width="2.6" stroke-linecap="round"/></g>
<g transform="translate(1382,766.8) rotate(45)"><path d="M-12,-7.3 L-12,7.3 L0,0 Z" fill="#000"/><line x1="0" y1="-8" x2="0" y2="8" stroke="#000" stroke-width="2.6" stroke-linecap="round"/></g>
<g transform="translate(1326.5,821.4) rotate(45)"><path d="M-12,-7.3 L-12,7.3 L0,0 Z" fill="#000"/><line x1="0" y1="-8" x2="0" y2="8" stroke="#000" stroke-width="2.6" stroke-linecap="round"/></g>
<g transform="translate(1382.2,813) rotate(-45)"><path d="M-12,-7.3 L-12,7.3 L0,0 Z" fill="#000"/><line x1="0" y1="-8" x2="0" y2="8" stroke="#000" stroke-width="2.6" stroke-linecap="round"/></g>
<circle cx="1350.2" cy="735" r="2.7" class="j"/>
<circle cx="1404.2" cy="789.6" r="2.7" class="j"/>
<circle cx="1350.2" cy="845" r="2.7" class="j"/>
<circle cx="1296.2" cy="790.2" r="2.7" class="j"/>
<line x1="1296.2" y1="790.2" x2="1296.2" y2="912.2" class="w" stroke-width="1.3"/>
<polyline points="1404.2,789.6 1431.4,789.6" class="w" stroke-width="1.3"/>
<circle cx="1423.8" cy="789.6" r="2.7" class="j"/>
<text x="1396.4" y="770" font-size="14.9" class="g" textLength="25" lengthAdjust="spacingAndGlyphs">280V</text>
<text x="1404.8" y="785" font-size="14.9" class="g" textLength="25" lengthAdjust="spacingAndGlyphs">66mA</text>
<line x1="1423.8" y1="789.6" x2="1423.8" y2="839.2" class="w" stroke-width="1.3"/>
<line x1="1416" y1="839.2" x2="1431.4" y2="839.2" class="w" stroke-width="2.4"/>
<line x1="1437.8" y1="839.2" x2="1456.6" y2="839.2" class="w" stroke-width="2.4"/>
<polyline points="1413.2,842.8 1413.2,842.8 1458,842.8 1458,840" class="w" stroke-width="1.3"/>
<line x1="1413.2" y1="842.8" x2="1413.2" y2="840" class="w" stroke-width="1.0"/>
<polyline points="1434.2,842.8 1434.2,912.2" class="w" stroke-width="1.3"/>
<text x="1404.8" y="833" font-size="14.9" class="t" textLength="15" lengthAdjust="spacingAndGlyphs">C43</text>
<text x="1437" y="856" font-size="14.9" class="t" textLength="35" lengthAdjust="spacingAndGlyphs">2×50µF</text>
<text x="1437.8" y="871" font-size="14.9" class="t" textLength="50" lengthAdjust="spacingAndGlyphs">350/380V</text>
<polyline points="1267.6,871.4 1418,871.4" class="w" stroke-width="1.3"/>
<path d="M1418,869 L1423,871.4 L1418,873.8 Z" class="w" stroke-width="1" style="fill:#000"/>
<polyline points="1267.6,912.2 1434.2,912.2" class="w" stroke-width="1.3"/>
<circle cx="1323.6" cy="871.4" r="2.7" class="j"/>
<circle cx="1323.6" cy="912.2" r="2.7" class="j"/>
<line x1="1323.6" y1="871.4" x2="1323.6" y2="880" class="w" stroke-width="1.3"/>
<line x1="1323.6" y1="903.6" x2="1323.6" y2="912.2" class="w" stroke-width="1.3"/>
<circle cx="1323.6" cy="891.8" r="11.6" class="w" stroke-width="1.5"/>
<line x1="1315.4" y1="883.6" x2="1331.8" y2="900" class="w" stroke-width="1.3"/>
<line x1="1315.4" y1="900" x2="1331.8" y2="883.6" class="w" stroke-width="1.3"/>
<circle cx="1351" cy="871.4" r="2.7" class="j"/>
<circle cx="1351" cy="912.2" r="2.7" class="j"/>
<line x1="1351" y1="871.4" x2="1351" y2="880" class="w" stroke-width="1.3"/>
<line x1="1351" y1="903.6" x2="1351" y2="912.2" class="w" stroke-width="1.3"/>
<circle cx="1351" cy="891.8" r="11.6" class="w" stroke-width="1.5"/>
<line x1="1342.8" y1="883.6" x2="1359.2" y2="900" class="w" stroke-width="1.3"/>
<line x1="1342.8" y1="900" x2="1359.2" y2="883.6" class="w" stroke-width="1.3"/>
<circle cx="1378.2" cy="871.4" r="2.7" class="j"/>
<circle cx="1378.2" cy="912.2" r="2.7" class="j"/>
<line x1="1378.2" y1="871.4" x2="1378.2" y2="880" class="w" stroke-width="1.3"/>
<line x1="1378.2" y1="903.6" x2="1378.2" y2="912.2" class="w" stroke-width="1.3"/>
<circle cx="1378.2" cy="891.8" r="11.6" class="w" stroke-width="1.5"/>
<line x1="1370" y1="883.6" x2="1386.4" y2="900" class="w" stroke-width="1.3"/>
<line x1="1370" y1="900" x2="1386.4" y2="883.6" class="w" stroke-width="1.3"/>
<circle cx="1282.2" cy="912.2" r="2.7" class="j"/>
<circle cx="1295.6" cy="912.2" r="2.7" class="j"/>
<circle cx="1434.2" cy="912.2" r="2.7" class="j"/>
<text transform="translate(1413,884) scale(0.72,1)" font-size="13.8" class="t">ż</text>
<text x="1399.2" y="896" font-size="14.9" class="t" textLength="29" lengthAdjust="spacingAndGlyphs">(11,13)</text>
<line x1="1428.6" y1="931" x2="1441.2" y2="917.8" class="w" stroke-width="2.4"/>
<line x1="1434.2" y1="912.2" x2="1434.2" y2="919" class="w" stroke-width="1.3"/>
</svg></body></html>
